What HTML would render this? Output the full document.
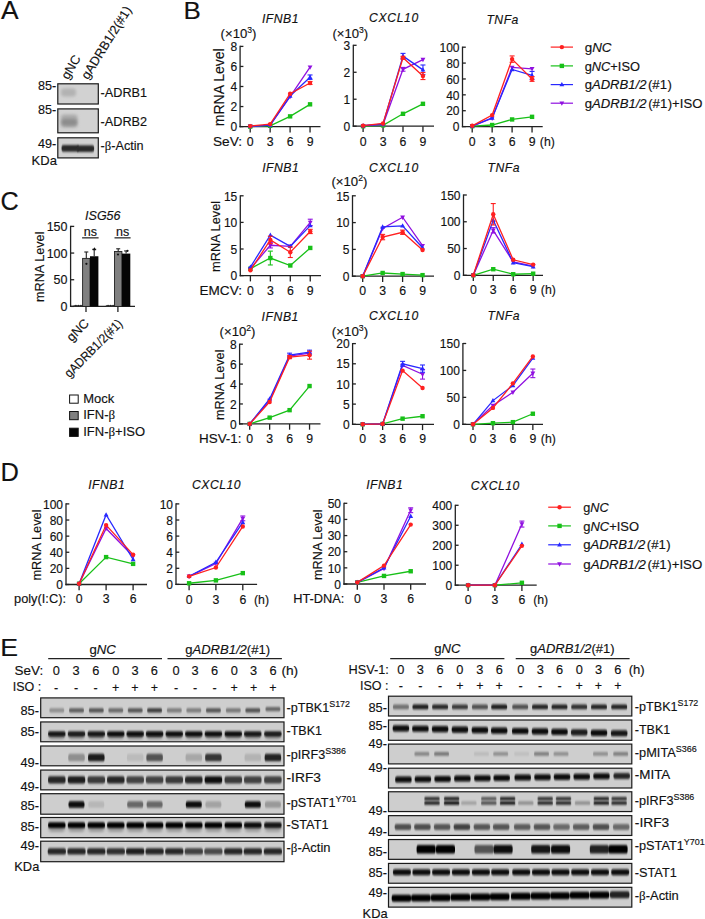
<!DOCTYPE html>
<html><head><meta charset="utf-8"><style>
html,body{margin:0;padding:0;background:#fff;}
svg{display:block;font-family:"Liberation Sans", sans-serif;}
text{stroke:#111;stroke-width:0.15px;paint-order:stroke;}
</style></head><body>
<svg width="705" height="919" viewBox="0 0 705 919" font-family='"Liberation Sans", sans-serif' fill="#111">
<defs>
<filter id="b1" x="-50%" y="-50%" width="200%" height="200%"><feGaussianBlur stdDeviation="0.75 0.85"/></filter>
<filter id="b2" x="-50%" y="-50%" width="200%" height="200%"><feGaussianBlur stdDeviation="0.8"/></filter>
<filter id="b3" x="-50%" y="-50%" width="200%" height="200%"><feGaussianBlur stdDeviation="1.5"/></filter>
<filter id="b4" x="-50%" y="-50%" width="200%" height="200%"><feGaussianBlur stdDeviation="1.8"/></filter>
</defs>
<text x="0.9" y="19.0" font-size="25" textLength="17.6" lengthAdjust="spacingAndGlyphs">A</text>
<text x="183.6" y="18.6" font-size="24.5" textLength="17.3" lengthAdjust="spacingAndGlyphs">B</text>
<text x="0.6" y="209.8" font-size="25.5" textLength="18.2" lengthAdjust="spacingAndGlyphs">C</text>
<text x="0.6" y="481.4" font-size="25.5" textLength="18.4" lengthAdjust="spacingAndGlyphs">D</text>
<text x="0.2" y="655.6" font-size="24.5" textLength="17.8" lengthAdjust="spacingAndGlyphs">E</text>
<line x1="240.10" y1="45.80" x2="240.10" y2="127.25" stroke="#222" stroke-width="1.3"/>
<line x1="239.45" y1="126.60" x2="320.50" y2="126.60" stroke="#222" stroke-width="1.3"/>
<line x1="240.10" y1="126.60" x2="243.40" y2="126.60" stroke="#222" stroke-width="1.3"/>
<text x="237.10" y="131.30" font-size="12" text-anchor="end" >0</text>
<line x1="240.10" y1="106.55" x2="243.40" y2="106.55" stroke="#222" stroke-width="1.3"/>
<text x="237.10" y="111.25" font-size="12" text-anchor="end" >2</text>
<line x1="240.10" y1="86.50" x2="243.40" y2="86.50" stroke="#222" stroke-width="1.3"/>
<text x="237.10" y="91.20" font-size="12" text-anchor="end" >4</text>
<line x1="240.10" y1="66.45" x2="243.40" y2="66.45" stroke="#222" stroke-width="1.3"/>
<text x="237.10" y="71.15" font-size="12" text-anchor="end" >6</text>
<line x1="240.10" y1="46.40" x2="243.40" y2="46.40" stroke="#222" stroke-width="1.3"/>
<text x="237.10" y="51.10" font-size="12" text-anchor="end" >8</text>
<line x1="250.20" y1="126.60" x2="250.20" y2="132.40" stroke="#222" stroke-width="1.3"/>
<text x="250.20" y="145.90" font-size="12.3" text-anchor="middle" >0</text>
<line x1="270.15" y1="126.60" x2="270.15" y2="132.40" stroke="#222" stroke-width="1.3"/>
<text x="270.15" y="145.90" font-size="12.3" text-anchor="middle" >3</text>
<line x1="290.10" y1="126.60" x2="290.10" y2="132.40" stroke="#222" stroke-width="1.3"/>
<text x="290.10" y="145.90" font-size="12.3" text-anchor="middle" >6</text>
<line x1="310.05" y1="126.60" x2="310.05" y2="132.40" stroke="#222" stroke-width="1.3"/>
<text x="310.05" y="145.90" font-size="12.3" text-anchor="middle" >9</text>
<polyline points="250.20,126.60 270.15,125.80 290.10,116.37 310.05,104.34" fill="none" stroke="#18c018" stroke-width="1.3"/>
<rect x="248.00" y="124.40" width="4.40" height="4.40" fill="#18c018"/>
<rect x="267.95" y="123.60" width="4.40" height="4.40" fill="#18c018"/>
<rect x="287.90" y="114.17" width="4.40" height="4.40" fill="#18c018"/>
<rect x="307.85" y="102.14" width="4.40" height="4.40" fill="#18c018"/>
<polyline points="250.20,126.30 270.15,125.10 290.10,96.53 310.05,67.15" fill="none" stroke="#9010e0" stroke-width="1.3"/>
<path d="M250.20,128.94L252.62,124.54L247.78,124.54Z" fill="#9010e0"/>
<path d="M270.15,127.74L272.57,123.34L267.73,123.34Z" fill="#9010e0"/>
<path d="M290.10,99.17L292.52,94.77L287.68,94.77Z" fill="#9010e0"/>
<path d="M310.05,69.79L312.47,65.39L307.63,65.39Z" fill="#9010e0"/>
<polyline points="250.20,126.30 270.15,125.10 290.10,96.02 310.05,77.18" fill="none" stroke="#2828ff" stroke-width="1.3"/>
<line x1="310.05" y1="79.38" x2="310.05" y2="74.97" stroke="#2828ff" stroke-width="1.1"/>
<line x1="307.55" y1="74.97" x2="312.55" y2="74.97" stroke="#2828ff" stroke-width="1.1"/>
<line x1="307.55" y1="79.38" x2="312.55" y2="79.38" stroke="#2828ff" stroke-width="1.1"/>
<path d="M250.20,123.66L252.62,128.06L247.78,128.06Z" fill="#2828ff"/>
<path d="M270.15,122.46L272.57,126.86L267.73,126.86Z" fill="#2828ff"/>
<path d="M290.10,93.38L292.52,97.78L287.68,97.78Z" fill="#2828ff"/>
<path d="M310.05,74.54L312.47,78.94L307.63,78.94Z" fill="#2828ff"/>
<polyline points="250.20,126.10 270.15,124.09 290.10,93.72 310.05,82.99" fill="none" stroke="#ff2020" stroke-width="1.3"/>
<line x1="310.05" y1="84.50" x2="310.05" y2="81.49" stroke="#ff2020" stroke-width="1.1"/>
<line x1="307.55" y1="81.49" x2="312.55" y2="81.49" stroke="#ff2020" stroke-width="1.1"/>
<line x1="307.55" y1="84.50" x2="312.55" y2="84.50" stroke="#ff2020" stroke-width="1.1"/>
<circle cx="250.20" cy="126.10" r="2.2" fill="#ff2020"/>
<circle cx="270.15" cy="124.09" r="2.2" fill="#ff2020"/>
<circle cx="290.10" cy="93.72" r="2.2" fill="#ff2020"/>
<circle cx="310.05" cy="82.99" r="2.2" fill="#ff2020"/>
<text x="262.00" y="22.90" font-size="12.2" font-style="italic" textLength="36.50" lengthAdjust="spacing">IFNB1</text>
<text x="220.60" y="37.60" font-size="13" textLength="35.80" lengthAdjust="spacingAndGlyphs">(×10<tspan font-size="8.5" dy="-5">3</tspan><tspan dy="5">)</tspan></text>
<text x="0" y="0" font-size="14" text-anchor="middle" transform="translate(223.60,87.30) rotate(-90)">mRNA Level</text>
<text x="212.90" y="145.90" font-size="13.2" textLength="29.20" lengthAdjust="spacingAndGlyphs">SeV:</text>
<line x1="353.30" y1="44.70" x2="353.30" y2="126.85" stroke="#222" stroke-width="1.3"/>
<line x1="352.65" y1="126.20" x2="434.00" y2="126.20" stroke="#222" stroke-width="1.3"/>
<line x1="353.30" y1="126.20" x2="356.60" y2="126.20" stroke="#222" stroke-width="1.3"/>
<text x="350.30" y="130.90" font-size="12" text-anchor="end" >0</text>
<line x1="353.30" y1="99.23" x2="356.60" y2="99.23" stroke="#222" stroke-width="1.3"/>
<text x="350.30" y="103.93" font-size="12" text-anchor="end" >1</text>
<line x1="353.30" y1="72.27" x2="356.60" y2="72.27" stroke="#222" stroke-width="1.3"/>
<text x="350.30" y="76.97" font-size="12" text-anchor="end" >2</text>
<line x1="353.30" y1="45.30" x2="356.60" y2="45.30" stroke="#222" stroke-width="1.3"/>
<text x="350.30" y="50.00" font-size="12" text-anchor="end" >3</text>
<line x1="363.10" y1="126.20" x2="363.10" y2="132.00" stroke="#222" stroke-width="1.3"/>
<text x="363.10" y="145.50" font-size="12.3" text-anchor="middle" >0</text>
<line x1="383.05" y1="126.20" x2="383.05" y2="132.00" stroke="#222" stroke-width="1.3"/>
<text x="383.05" y="145.50" font-size="12.3" text-anchor="middle" >3</text>
<line x1="403.00" y1="126.20" x2="403.00" y2="132.00" stroke="#222" stroke-width="1.3"/>
<text x="403.00" y="145.50" font-size="12.3" text-anchor="middle" >6</text>
<line x1="422.95" y1="126.20" x2="422.95" y2="132.00" stroke="#222" stroke-width="1.3"/>
<text x="422.95" y="145.50" font-size="12.3" text-anchor="middle" >9</text>
<polyline points="363.10,126.20 383.05,125.39 403.00,113.80 422.95,103.82" fill="none" stroke="#18c018" stroke-width="1.3"/>
<rect x="360.90" y="124.00" width="4.40" height="4.40" fill="#18c018"/>
<rect x="380.85" y="123.19" width="4.40" height="4.40" fill="#18c018"/>
<rect x="400.80" y="111.60" width="4.40" height="4.40" fill="#18c018"/>
<rect x="420.75" y="101.62" width="4.40" height="4.40" fill="#18c018"/>
<polyline points="363.10,125.66 383.05,124.58 403.00,69.30 422.95,59.59" fill="none" stroke="#9010e0" stroke-width="1.3"/>
<line x1="403.00" y1="71.19" x2="403.00" y2="67.41" stroke="#9010e0" stroke-width="1.1"/>
<line x1="400.50" y1="67.41" x2="405.50" y2="67.41" stroke="#9010e0" stroke-width="1.1"/>
<line x1="400.50" y1="71.19" x2="405.50" y2="71.19" stroke="#9010e0" stroke-width="1.1"/>
<path d="M363.10,128.30L365.52,123.90L360.68,123.90Z" fill="#9010e0"/>
<path d="M383.05,127.22L385.47,122.82L380.63,122.82Z" fill="#9010e0"/>
<path d="M403.00,71.94L405.42,67.54L400.58,67.54Z" fill="#9010e0"/>
<path d="M422.95,62.23L425.37,57.83L420.53,57.83Z" fill="#9010e0"/>
<polyline points="363.10,125.66 383.05,124.04 403.00,56.09 422.95,69.84" fill="none" stroke="#2828ff" stroke-width="1.3"/>
<line x1="403.00" y1="58.78" x2="403.00" y2="53.39" stroke="#2828ff" stroke-width="1.1"/>
<line x1="400.50" y1="53.39" x2="405.50" y2="53.39" stroke="#2828ff" stroke-width="1.1"/>
<line x1="400.50" y1="58.78" x2="405.50" y2="58.78" stroke="#2828ff" stroke-width="1.1"/>
<line x1="422.95" y1="74.69" x2="422.95" y2="64.99" stroke="#2828ff" stroke-width="1.1"/>
<line x1="420.45" y1="64.99" x2="425.45" y2="64.99" stroke="#2828ff" stroke-width="1.1"/>
<line x1="420.45" y1="74.69" x2="425.45" y2="74.69" stroke="#2828ff" stroke-width="1.1"/>
<path d="M363.10,123.02L365.52,127.42L360.68,127.42Z" fill="#2828ff"/>
<path d="M383.05,121.40L385.47,125.80L380.63,125.80Z" fill="#2828ff"/>
<path d="M403.00,53.45L405.42,57.85L400.58,57.85Z" fill="#2828ff"/>
<path d="M422.95,67.20L425.37,71.60L420.53,71.60Z" fill="#2828ff"/>
<polyline points="363.10,125.66 383.05,123.50 403.00,57.70 422.95,76.04" fill="none" stroke="#ff2020" stroke-width="1.3"/>
<line x1="403.00" y1="59.05" x2="403.00" y2="56.36" stroke="#ff2020" stroke-width="1.1"/>
<line x1="400.50" y1="56.36" x2="405.50" y2="56.36" stroke="#ff2020" stroke-width="1.1"/>
<line x1="400.50" y1="59.05" x2="405.50" y2="59.05" stroke="#ff2020" stroke-width="1.1"/>
<line x1="422.95" y1="79.55" x2="422.95" y2="72.54" stroke="#ff2020" stroke-width="1.1"/>
<line x1="420.45" y1="72.54" x2="425.45" y2="72.54" stroke="#ff2020" stroke-width="1.1"/>
<line x1="420.45" y1="79.55" x2="425.45" y2="79.55" stroke="#ff2020" stroke-width="1.1"/>
<circle cx="363.10" cy="125.66" r="2.2" fill="#ff2020"/>
<circle cx="383.05" cy="123.50" r="2.2" fill="#ff2020"/>
<circle cx="403.00" cy="57.70" r="2.2" fill="#ff2020"/>
<circle cx="422.95" cy="76.04" r="2.2" fill="#ff2020"/>
<text x="369.00" y="21.80" font-size="12.2" font-style="italic" textLength="49.30" lengthAdjust="spacing">CXCL10</text>
<text x="332.40" y="37.60" font-size="13" textLength="35.80" lengthAdjust="spacingAndGlyphs">(×10<tspan font-size="8.5" dy="-5">3</tspan><tspan dy="5">)</tspan></text>
<line x1="462.50" y1="46.60" x2="462.50" y2="127.25" stroke="#222" stroke-width="1.3"/>
<line x1="461.85" y1="126.60" x2="542.70" y2="126.60" stroke="#222" stroke-width="1.3"/>
<line x1="462.50" y1="126.60" x2="465.80" y2="126.60" stroke="#222" stroke-width="1.3"/>
<text x="459.50" y="131.30" font-size="12" text-anchor="end" >0</text>
<line x1="462.50" y1="110.72" x2="465.80" y2="110.72" stroke="#222" stroke-width="1.3"/>
<text x="459.50" y="115.42" font-size="12" text-anchor="end" >20</text>
<line x1="462.50" y1="94.84" x2="465.80" y2="94.84" stroke="#222" stroke-width="1.3"/>
<text x="459.50" y="99.54" font-size="12" text-anchor="end" >40</text>
<line x1="462.50" y1="78.96" x2="465.80" y2="78.96" stroke="#222" stroke-width="1.3"/>
<text x="459.50" y="83.66" font-size="12" text-anchor="end" >60</text>
<line x1="462.50" y1="63.08" x2="465.80" y2="63.08" stroke="#222" stroke-width="1.3"/>
<text x="459.50" y="67.78" font-size="12" text-anchor="end" >80</text>
<line x1="462.50" y1="47.20" x2="465.80" y2="47.20" stroke="#222" stroke-width="1.3"/>
<text x="459.50" y="51.90" font-size="12" text-anchor="end" >100</text>
<line x1="472.20" y1="126.60" x2="472.20" y2="132.40" stroke="#222" stroke-width="1.3"/>
<text x="472.20" y="145.90" font-size="12.3" text-anchor="middle" >0</text>
<line x1="492.15" y1="126.60" x2="492.15" y2="132.40" stroke="#222" stroke-width="1.3"/>
<text x="492.15" y="145.90" font-size="12.3" text-anchor="middle" >3</text>
<line x1="512.10" y1="126.60" x2="512.10" y2="132.40" stroke="#222" stroke-width="1.3"/>
<text x="512.10" y="145.90" font-size="12.3" text-anchor="middle" >6</text>
<line x1="532.05" y1="126.60" x2="532.05" y2="132.40" stroke="#222" stroke-width="1.3"/>
<text x="532.05" y="145.90" font-size="12.3" text-anchor="middle" >9</text>
<polyline points="472.20,126.20 492.15,125.01 512.10,119.45 532.05,116.83" fill="none" stroke="#18c018" stroke-width="1.3"/>
<rect x="470.00" y="124.00" width="4.40" height="4.40" fill="#18c018"/>
<rect x="489.95" y="122.81" width="4.40" height="4.40" fill="#18c018"/>
<rect x="509.90" y="117.25" width="4.40" height="4.40" fill="#18c018"/>
<rect x="529.85" y="114.63" width="4.40" height="4.40" fill="#18c018"/>
<polyline points="472.20,126.20 492.15,118.26 512.10,67.45 532.05,68.88" fill="none" stroke="#9010e0" stroke-width="1.3"/>
<path d="M472.20,128.84L474.62,124.44L469.78,124.44Z" fill="#9010e0"/>
<path d="M492.15,120.90L494.57,116.50L489.73,116.50Z" fill="#9010e0"/>
<path d="M512.10,70.09L514.52,65.69L509.68,65.69Z" fill="#9010e0"/>
<path d="M532.05,71.52L534.47,67.12L529.63,67.12Z" fill="#9010e0"/>
<polyline points="472.20,126.20 492.15,117.87 512.10,69.43 532.05,75.39" fill="none" stroke="#2828ff" stroke-width="1.3"/>
<line x1="532.05" y1="79.36" x2="532.05" y2="71.42" stroke="#2828ff" stroke-width="1.1"/>
<line x1="529.55" y1="71.42" x2="534.55" y2="71.42" stroke="#2828ff" stroke-width="1.1"/>
<line x1="529.55" y1="79.36" x2="534.55" y2="79.36" stroke="#2828ff" stroke-width="1.1"/>
<path d="M472.20,123.56L474.62,127.96L469.78,127.96Z" fill="#2828ff"/>
<path d="M492.15,115.23L494.57,119.63L489.73,119.63Z" fill="#2828ff"/>
<path d="M512.10,66.79L514.52,71.19L509.68,71.19Z" fill="#2828ff"/>
<path d="M532.05,72.75L534.47,77.15L529.63,77.15Z" fill="#2828ff"/>
<polyline points="472.20,125.81 492.15,115.09 512.10,59.11 532.05,78.96" fill="none" stroke="#ff2020" stroke-width="1.3"/>
<line x1="512.10" y1="62.29" x2="512.10" y2="55.93" stroke="#ff2020" stroke-width="1.1"/>
<line x1="509.60" y1="55.93" x2="514.60" y2="55.93" stroke="#ff2020" stroke-width="1.1"/>
<line x1="509.60" y1="62.29" x2="514.60" y2="62.29" stroke="#ff2020" stroke-width="1.1"/>
<line x1="532.05" y1="81.34" x2="532.05" y2="76.58" stroke="#ff2020" stroke-width="1.1"/>
<line x1="529.55" y1="76.58" x2="534.55" y2="76.58" stroke="#ff2020" stroke-width="1.1"/>
<line x1="529.55" y1="81.34" x2="534.55" y2="81.34" stroke="#ff2020" stroke-width="1.1"/>
<circle cx="472.20" cy="125.81" r="2.2" fill="#ff2020"/>
<circle cx="492.15" cy="115.09" r="2.2" fill="#ff2020"/>
<circle cx="512.10" cy="59.11" r="2.2" fill="#ff2020"/>
<circle cx="532.05" cy="78.96" r="2.2" fill="#ff2020"/>
<text x="486.40" y="24.20" font-size="12.2" font-style="italic" textLength="32.00" lengthAdjust="spacing">TNFa</text>
<text x="539.80" y="145.90" font-size="12.3" text-anchor="start" >(h)</text>
<line x1="550.70" y1="47.10" x2="573.00" y2="47.10" stroke="#ff2020" stroke-width="1.2"/>
<circle cx="561.85" cy="47.10" r="2.2" fill="#ff2020"/>
<text x="584.70" y="51.70" font-size="12.5" textLength="26.80" lengthAdjust="spacingAndGlyphs">g<tspan font-style="italic">NC</tspan></text>
<line x1="550.70" y1="65.90" x2="573.00" y2="65.90" stroke="#18c018" stroke-width="1.2"/>
<rect x="559.65" y="63.70" width="4.40" height="4.40" fill="#18c018"/>
<text x="584.70" y="70.50" font-size="12.5" textLength="55.30" lengthAdjust="spacingAndGlyphs">g<tspan font-style="italic">NC</tspan>+ISO</text>
<line x1="550.70" y1="84.60" x2="573.00" y2="84.60" stroke="#2828ff" stroke-width="1.2"/>
<path d="M561.85,81.96L564.27,86.36L559.43,86.36Z" fill="#2828ff"/>
<text x="584.70" y="89.20" font-size="12.5" textLength="87.10" lengthAdjust="spacingAndGlyphs">g<tspan font-style="italic">ADRB1/2</tspan><tspan dx="1.5">(</tspan>#1<tspan dx="0.5">)</tspan></text>
<line x1="550.70" y1="103.20" x2="573.00" y2="103.20" stroke="#9010e0" stroke-width="1.2"/>
<path d="M561.85,105.84L564.27,101.44L559.43,101.44Z" fill="#9010e0"/>
<text x="584.70" y="107.80" font-size="12.5" textLength="117.70" lengthAdjust="spacingAndGlyphs">g<tspan font-style="italic">ADRB1/2</tspan><tspan dx="1.5">(</tspan>#1<tspan dx="0.5">)</tspan>+ISO</text>
<line x1="240.30" y1="195.20" x2="240.30" y2="276.25" stroke="#222" stroke-width="1.3"/>
<line x1="239.65" y1="275.60" x2="321.00" y2="275.60" stroke="#222" stroke-width="1.3"/>
<line x1="240.30" y1="275.60" x2="243.60" y2="275.60" stroke="#222" stroke-width="1.3"/>
<text x="237.30" y="280.30" font-size="12" text-anchor="end" >0</text>
<line x1="240.30" y1="249.00" x2="243.60" y2="249.00" stroke="#222" stroke-width="1.3"/>
<text x="237.30" y="253.70" font-size="12" text-anchor="end" >5</text>
<line x1="240.30" y1="222.40" x2="243.60" y2="222.40" stroke="#222" stroke-width="1.3"/>
<text x="237.30" y="227.10" font-size="12" text-anchor="end" >10</text>
<line x1="240.30" y1="195.80" x2="243.60" y2="195.80" stroke="#222" stroke-width="1.3"/>
<text x="237.30" y="200.50" font-size="12" text-anchor="end" >15</text>
<line x1="250.40" y1="275.60" x2="250.40" y2="281.40" stroke="#222" stroke-width="1.3"/>
<text x="250.40" y="294.50" font-size="12.3" text-anchor="middle" >0</text>
<line x1="270.35" y1="275.60" x2="270.35" y2="281.40" stroke="#222" stroke-width="1.3"/>
<text x="270.35" y="294.50" font-size="12.3" text-anchor="middle" >3</text>
<line x1="290.30" y1="275.60" x2="290.30" y2="281.40" stroke="#222" stroke-width="1.3"/>
<text x="290.30" y="294.50" font-size="12.3" text-anchor="middle" >6</text>
<line x1="310.25" y1="275.60" x2="310.25" y2="281.40" stroke="#222" stroke-width="1.3"/>
<text x="310.25" y="294.50" font-size="12.3" text-anchor="middle" >9</text>
<polyline points="250.40,268.68 270.35,258.04 290.30,265.49 310.25,247.94" fill="none" stroke="#18c018" stroke-width="1.3"/>
<line x1="270.35" y1="264.96" x2="270.35" y2="251.13" stroke="#18c018" stroke-width="1.1"/>
<line x1="267.85" y1="251.13" x2="272.85" y2="251.13" stroke="#18c018" stroke-width="1.1"/>
<line x1="267.85" y1="264.96" x2="272.85" y2="264.96" stroke="#18c018" stroke-width="1.1"/>
<rect x="248.20" y="266.48" width="4.40" height="4.40" fill="#18c018"/>
<rect x="268.15" y="255.84" width="4.40" height="4.40" fill="#18c018"/>
<rect x="288.10" y="263.29" width="4.40" height="4.40" fill="#18c018"/>
<rect x="308.05" y="245.74" width="4.40" height="4.40" fill="#18c018"/>
<polyline points="250.40,268.68 270.35,245.28 290.30,246.34 310.25,222.40" fill="none" stroke="#9010e0" stroke-width="1.3"/>
<line x1="270.35" y1="247.94" x2="270.35" y2="242.62" stroke="#9010e0" stroke-width="1.1"/>
<line x1="267.85" y1="242.62" x2="272.85" y2="242.62" stroke="#9010e0" stroke-width="1.1"/>
<line x1="267.85" y1="247.94" x2="272.85" y2="247.94" stroke="#9010e0" stroke-width="1.1"/>
<line x1="310.25" y1="225.59" x2="310.25" y2="219.21" stroke="#9010e0" stroke-width="1.1"/>
<line x1="307.75" y1="219.21" x2="312.75" y2="219.21" stroke="#9010e0" stroke-width="1.1"/>
<line x1="307.75" y1="225.59" x2="312.75" y2="225.59" stroke="#9010e0" stroke-width="1.1"/>
<path d="M250.40,271.32L252.82,266.92L247.98,266.92Z" fill="#9010e0"/>
<path d="M270.35,247.92L272.77,243.52L267.93,243.52Z" fill="#9010e0"/>
<path d="M290.30,248.98L292.72,244.58L287.88,244.58Z" fill="#9010e0"/>
<path d="M310.25,225.04L312.67,220.64L307.83,220.64Z" fill="#9010e0"/>
<polyline points="250.40,267.09 270.35,235.17 290.30,246.34 310.25,225.59" fill="none" stroke="#2828ff" stroke-width="1.3"/>
<path d="M250.40,264.45L252.82,268.85L247.98,268.85Z" fill="#2828ff"/>
<path d="M270.35,232.53L272.77,236.93L267.93,236.93Z" fill="#2828ff"/>
<path d="M290.30,243.70L292.72,248.10L287.88,248.10Z" fill="#2828ff"/>
<path d="M310.25,222.95L312.67,227.35L307.83,227.35Z" fill="#2828ff"/>
<polyline points="250.40,270.28 270.35,239.96 290.30,252.19 310.25,231.44" fill="none" stroke="#ff2020" stroke-width="1.3"/>
<line x1="270.35" y1="243.68" x2="270.35" y2="236.23" stroke="#ff2020" stroke-width="1.1"/>
<line x1="267.85" y1="236.23" x2="272.85" y2="236.23" stroke="#ff2020" stroke-width="1.1"/>
<line x1="267.85" y1="243.68" x2="272.85" y2="243.68" stroke="#ff2020" stroke-width="1.1"/>
<line x1="290.30" y1="257.51" x2="290.30" y2="246.87" stroke="#ff2020" stroke-width="1.1"/>
<line x1="287.80" y1="246.87" x2="292.80" y2="246.87" stroke="#ff2020" stroke-width="1.1"/>
<line x1="287.80" y1="257.51" x2="292.80" y2="257.51" stroke="#ff2020" stroke-width="1.1"/>
<line x1="310.25" y1="233.57" x2="310.25" y2="229.32" stroke="#ff2020" stroke-width="1.1"/>
<line x1="307.75" y1="229.32" x2="312.75" y2="229.32" stroke="#ff2020" stroke-width="1.1"/>
<line x1="307.75" y1="233.57" x2="312.75" y2="233.57" stroke="#ff2020" stroke-width="1.1"/>
<circle cx="250.40" cy="270.28" r="2.2" fill="#ff2020"/>
<circle cx="270.35" cy="239.96" r="2.2" fill="#ff2020"/>
<circle cx="290.30" cy="252.19" r="2.2" fill="#ff2020"/>
<circle cx="310.25" cy="231.44" r="2.2" fill="#ff2020"/>
<text x="262.20" y="172.20" font-size="12.2" font-style="italic" textLength="36.60" lengthAdjust="spacing">IFNB1</text>
<text x="0" y="0" font-size="12.8" text-anchor="middle" transform="translate(219.80,236.40) rotate(-90)">mRNA Level</text>
<text x="199.50" y="294.50" font-size="13.2" textLength="42.50" lengthAdjust="spacingAndGlyphs">EMCV:</text>
<line x1="352.50" y1="195.20" x2="352.50" y2="276.85" stroke="#222" stroke-width="1.3"/>
<line x1="351.85" y1="276.20" x2="434.00" y2="276.20" stroke="#222" stroke-width="1.3"/>
<line x1="352.50" y1="276.20" x2="355.80" y2="276.20" stroke="#222" stroke-width="1.3"/>
<text x="349.50" y="280.90" font-size="12" text-anchor="end" >0</text>
<line x1="352.50" y1="249.40" x2="355.80" y2="249.40" stroke="#222" stroke-width="1.3"/>
<text x="349.50" y="254.10" font-size="12" text-anchor="end" >5</text>
<line x1="352.50" y1="222.60" x2="355.80" y2="222.60" stroke="#222" stroke-width="1.3"/>
<text x="349.50" y="227.30" font-size="12" text-anchor="end" >10</text>
<line x1="352.50" y1="195.80" x2="355.80" y2="195.80" stroke="#222" stroke-width="1.3"/>
<text x="349.50" y="200.50" font-size="12" text-anchor="end" >15</text>
<line x1="362.70" y1="276.20" x2="362.70" y2="282.00" stroke="#222" stroke-width="1.3"/>
<text x="362.70" y="295.10" font-size="12.3" text-anchor="middle" >0</text>
<line x1="382.65" y1="276.20" x2="382.65" y2="282.00" stroke="#222" stroke-width="1.3"/>
<text x="382.65" y="295.10" font-size="12.3" text-anchor="middle" >3</text>
<line x1="402.60" y1="276.20" x2="402.60" y2="282.00" stroke="#222" stroke-width="1.3"/>
<text x="402.60" y="295.10" font-size="12.3" text-anchor="middle" >6</text>
<line x1="422.55" y1="276.20" x2="422.55" y2="282.00" stroke="#222" stroke-width="1.3"/>
<text x="422.55" y="295.10" font-size="12.3" text-anchor="middle" >9</text>
<polyline points="362.70,276.20 382.65,272.98 402.60,274.06 422.55,275.13" fill="none" stroke="#18c018" stroke-width="1.3"/>
<rect x="360.50" y="274.00" width="4.40" height="4.40" fill="#18c018"/>
<rect x="380.45" y="270.78" width="4.40" height="4.40" fill="#18c018"/>
<rect x="400.40" y="271.86" width="4.40" height="4.40" fill="#18c018"/>
<rect x="420.35" y="272.93" width="4.40" height="4.40" fill="#18c018"/>
<polyline points="362.70,276.20 382.65,228.50 402.60,217.24 422.55,245.65" fill="none" stroke="#9010e0" stroke-width="1.3"/>
<path d="M362.70,278.84L365.12,274.44L360.28,274.44Z" fill="#9010e0"/>
<path d="M382.65,231.14L385.07,226.74L380.23,226.74Z" fill="#9010e0"/>
<path d="M402.60,219.88L405.02,215.48L400.18,215.48Z" fill="#9010e0"/>
<path d="M422.55,248.29L424.97,243.89L420.13,243.89Z" fill="#9010e0"/>
<polyline points="362.70,276.20 382.65,226.89 402.60,225.82 422.55,247.79" fill="none" stroke="#2828ff" stroke-width="1.3"/>
<path d="M362.70,273.56L365.12,277.96L360.28,277.96Z" fill="#2828ff"/>
<path d="M382.65,224.25L385.07,228.65L380.23,228.65Z" fill="#2828ff"/>
<path d="M402.60,223.18L405.02,227.58L400.18,227.58Z" fill="#2828ff"/>
<path d="M422.55,245.15L424.97,249.55L420.13,249.55Z" fill="#2828ff"/>
<polyline points="362.70,276.20 382.65,237.07 402.60,232.25 422.55,249.94" fill="none" stroke="#ff2020" stroke-width="1.3"/>
<line x1="382.65" y1="239.75" x2="382.65" y2="234.39" stroke="#ff2020" stroke-width="1.1"/>
<line x1="380.15" y1="234.39" x2="385.15" y2="234.39" stroke="#ff2020" stroke-width="1.1"/>
<line x1="380.15" y1="239.75" x2="385.15" y2="239.75" stroke="#ff2020" stroke-width="1.1"/>
<line x1="402.60" y1="234.39" x2="402.60" y2="230.10" stroke="#ff2020" stroke-width="1.1"/>
<line x1="400.10" y1="230.10" x2="405.10" y2="230.10" stroke="#ff2020" stroke-width="1.1"/>
<line x1="400.10" y1="234.39" x2="405.10" y2="234.39" stroke="#ff2020" stroke-width="1.1"/>
<circle cx="362.70" cy="276.20" r="2.2" fill="#ff2020"/>
<circle cx="382.65" cy="237.07" r="2.2" fill="#ff2020"/>
<circle cx="402.60" cy="232.25" r="2.2" fill="#ff2020"/>
<circle cx="422.55" cy="249.94" r="2.2" fill="#ff2020"/>
<text x="369.00" y="172.30" font-size="12.2" font-style="italic" textLength="49.30" lengthAdjust="spacing">CXCL10</text>
<text x="331.40" y="185.90" font-size="13" textLength="36.00" lengthAdjust="spacingAndGlyphs">(×10<tspan font-size="8.5" dy="-5">2</tspan><tspan dy="5">)</tspan></text>
<line x1="463.50" y1="194.40" x2="463.50" y2="275.95" stroke="#222" stroke-width="1.3"/>
<line x1="462.85" y1="275.30" x2="543.00" y2="275.30" stroke="#222" stroke-width="1.3"/>
<line x1="463.50" y1="275.30" x2="466.80" y2="275.30" stroke="#222" stroke-width="1.3"/>
<text x="460.50" y="280.00" font-size="12" text-anchor="end" >0</text>
<line x1="463.50" y1="248.53" x2="466.80" y2="248.53" stroke="#222" stroke-width="1.3"/>
<text x="460.50" y="253.23" font-size="12" text-anchor="end" >50</text>
<line x1="463.50" y1="221.77" x2="466.80" y2="221.77" stroke="#222" stroke-width="1.3"/>
<text x="460.50" y="226.47" font-size="12" text-anchor="end" >100</text>
<line x1="463.50" y1="195.00" x2="466.80" y2="195.00" stroke="#222" stroke-width="1.3"/>
<text x="460.50" y="199.70" font-size="12" text-anchor="end" >150</text>
<line x1="473.30" y1="275.30" x2="473.30" y2="281.10" stroke="#222" stroke-width="1.3"/>
<text x="473.30" y="294.20" font-size="12.3" text-anchor="middle" >0</text>
<line x1="493.25" y1="275.30" x2="493.25" y2="281.10" stroke="#222" stroke-width="1.3"/>
<text x="493.25" y="294.20" font-size="12.3" text-anchor="middle" >3</text>
<line x1="513.20" y1="275.30" x2="513.20" y2="281.10" stroke="#222" stroke-width="1.3"/>
<text x="513.20" y="294.20" font-size="12.3" text-anchor="middle" >6</text>
<line x1="533.15" y1="275.30" x2="533.15" y2="281.10" stroke="#222" stroke-width="1.3"/>
<text x="533.15" y="294.20" font-size="12.3" text-anchor="middle" >9</text>
<polyline points="473.30,275.30 493.25,269.20 513.20,274.23 533.15,273.69" fill="none" stroke="#18c018" stroke-width="1.3"/>
<rect x="471.10" y="273.10" width="4.40" height="4.40" fill="#18c018"/>
<rect x="491.05" y="267.00" width="4.40" height="4.40" fill="#18c018"/>
<rect x="511.00" y="272.03" width="4.40" height="4.40" fill="#18c018"/>
<rect x="530.95" y="271.49" width="4.40" height="4.40" fill="#18c018"/>
<polyline points="473.30,275.30 493.25,230.33 513.20,261.92 533.15,266.20" fill="none" stroke="#9010e0" stroke-width="1.3"/>
<line x1="493.25" y1="233.01" x2="493.25" y2="227.66" stroke="#9010e0" stroke-width="1.1"/>
<line x1="490.75" y1="227.66" x2="495.75" y2="227.66" stroke="#9010e0" stroke-width="1.1"/>
<line x1="490.75" y1="233.01" x2="495.75" y2="233.01" stroke="#9010e0" stroke-width="1.1"/>
<path d="M473.30,277.94L475.72,273.54L470.88,273.54Z" fill="#9010e0"/>
<path d="M493.25,232.97L495.67,228.57L490.83,228.57Z" fill="#9010e0"/>
<path d="M513.20,264.56L515.62,260.16L510.78,260.16Z" fill="#9010e0"/>
<path d="M533.15,268.84L535.57,264.44L530.73,264.44Z" fill="#9010e0"/>
<polyline points="473.30,275.30 493.25,220.16 513.20,262.72 533.15,266.73" fill="none" stroke="#2828ff" stroke-width="1.3"/>
<path d="M473.30,272.66L475.72,277.06L470.88,277.06Z" fill="#2828ff"/>
<path d="M493.25,217.52L495.67,221.92L490.83,221.92Z" fill="#2828ff"/>
<path d="M513.20,260.08L515.62,264.48L510.78,264.48Z" fill="#2828ff"/>
<path d="M533.15,264.09L535.57,268.49L530.73,268.49Z" fill="#2828ff"/>
<polyline points="473.30,275.30 493.25,214.27 513.20,259.78 533.15,264.59" fill="none" stroke="#ff2020" stroke-width="1.3"/>
<line x1="493.25" y1="224.98" x2="493.25" y2="203.57" stroke="#ff2020" stroke-width="1.1"/>
<line x1="490.75" y1="203.57" x2="495.75" y2="203.57" stroke="#ff2020" stroke-width="1.1"/>
<line x1="490.75" y1="224.98" x2="495.75" y2="224.98" stroke="#ff2020" stroke-width="1.1"/>
<circle cx="473.30" cy="275.30" r="2.2" fill="#ff2020"/>
<circle cx="493.25" cy="214.27" r="2.2" fill="#ff2020"/>
<circle cx="513.20" cy="259.78" r="2.2" fill="#ff2020"/>
<circle cx="533.15" cy="264.59" r="2.2" fill="#ff2020"/>
<text x="487.60" y="171.80" font-size="12.2" font-style="italic" textLength="32.00" lengthAdjust="spacing">TNFa</text>
<text x="540.80" y="294.20" font-size="12.3" text-anchor="start" >(h)</text>
<line x1="239.60" y1="343.60" x2="239.60" y2="424.55" stroke="#222" stroke-width="1.3"/>
<line x1="238.95" y1="423.90" x2="320.50" y2="423.90" stroke="#222" stroke-width="1.3"/>
<line x1="239.60" y1="423.90" x2="242.90" y2="423.90" stroke="#222" stroke-width="1.3"/>
<text x="236.60" y="428.60" font-size="12" text-anchor="end" >0</text>
<line x1="239.60" y1="403.97" x2="242.90" y2="403.97" stroke="#222" stroke-width="1.3"/>
<text x="236.60" y="408.67" font-size="12" text-anchor="end" >2</text>
<line x1="239.60" y1="384.05" x2="242.90" y2="384.05" stroke="#222" stroke-width="1.3"/>
<text x="236.60" y="388.75" font-size="12" text-anchor="end" >4</text>
<line x1="239.60" y1="364.12" x2="242.90" y2="364.12" stroke="#222" stroke-width="1.3"/>
<text x="236.60" y="368.82" font-size="12" text-anchor="end" >6</text>
<line x1="239.60" y1="344.20" x2="242.90" y2="344.20" stroke="#222" stroke-width="1.3"/>
<text x="236.60" y="348.90" font-size="12" text-anchor="end" >8</text>
<line x1="249.70" y1="423.90" x2="249.70" y2="429.70" stroke="#222" stroke-width="1.3"/>
<text x="249.70" y="442.90" font-size="12.3" text-anchor="middle" >0</text>
<line x1="269.65" y1="423.90" x2="269.65" y2="429.70" stroke="#222" stroke-width="1.3"/>
<text x="269.65" y="442.90" font-size="12.3" text-anchor="middle" >3</text>
<line x1="289.60" y1="423.90" x2="289.60" y2="429.70" stroke="#222" stroke-width="1.3"/>
<text x="289.60" y="442.90" font-size="12.3" text-anchor="middle" >6</text>
<line x1="309.55" y1="423.90" x2="309.55" y2="429.70" stroke="#222" stroke-width="1.3"/>
<text x="309.55" y="442.90" font-size="12.3" text-anchor="middle" >9</text>
<polyline points="249.70,423.90 269.65,417.62 289.60,410.15 309.55,386.04" fill="none" stroke="#18c018" stroke-width="1.3"/>
<rect x="247.50" y="421.70" width="4.40" height="4.40" fill="#18c018"/>
<rect x="267.45" y="415.42" width="4.40" height="4.40" fill="#18c018"/>
<rect x="287.40" y="407.95" width="4.40" height="4.40" fill="#18c018"/>
<rect x="307.35" y="383.84" width="4.40" height="4.40" fill="#18c018"/>
<polyline points="249.70,423.90 269.65,400.49 289.60,356.15 309.55,353.17" fill="none" stroke="#9010e0" stroke-width="1.3"/>
<path d="M249.70,426.54L252.12,422.14L247.28,422.14Z" fill="#9010e0"/>
<path d="M269.65,403.13L272.07,398.73L267.23,398.73Z" fill="#9010e0"/>
<path d="M289.60,358.79L292.02,354.39L287.18,354.39Z" fill="#9010e0"/>
<path d="M309.55,355.81L311.97,351.41L307.13,351.41Z" fill="#9010e0"/>
<polyline points="249.70,423.90 269.65,398.99 289.60,355.16 309.55,352.17" fill="none" stroke="#2828ff" stroke-width="1.3"/>
<line x1="289.60" y1="357.15" x2="289.60" y2="353.17" stroke="#2828ff" stroke-width="1.1"/>
<line x1="287.10" y1="353.17" x2="292.10" y2="353.17" stroke="#2828ff" stroke-width="1.1"/>
<line x1="287.10" y1="357.15" x2="292.10" y2="357.15" stroke="#2828ff" stroke-width="1.1"/>
<line x1="309.55" y1="354.16" x2="309.55" y2="350.18" stroke="#2828ff" stroke-width="1.1"/>
<line x1="307.05" y1="350.18" x2="312.05" y2="350.18" stroke="#2828ff" stroke-width="1.1"/>
<line x1="307.05" y1="354.16" x2="312.05" y2="354.16" stroke="#2828ff" stroke-width="1.1"/>
<path d="M249.70,421.26L252.12,425.66L247.28,425.66Z" fill="#2828ff"/>
<path d="M269.65,396.35L272.07,400.75L267.23,400.75Z" fill="#2828ff"/>
<path d="M289.60,352.52L292.02,356.92L287.18,356.92Z" fill="#2828ff"/>
<path d="M309.55,349.53L311.97,353.93L307.13,353.93Z" fill="#2828ff"/>
<polyline points="249.70,423.90 269.65,401.98 289.60,357.15 309.55,355.16" fill="none" stroke="#ff2020" stroke-width="1.3"/>
<line x1="289.60" y1="358.65" x2="289.60" y2="355.66" stroke="#ff2020" stroke-width="1.1"/>
<line x1="287.10" y1="355.66" x2="292.10" y2="355.66" stroke="#ff2020" stroke-width="1.1"/>
<line x1="287.10" y1="358.65" x2="292.10" y2="358.65" stroke="#ff2020" stroke-width="1.1"/>
<line x1="309.55" y1="359.14" x2="309.55" y2="351.17" stroke="#ff2020" stroke-width="1.1"/>
<line x1="307.05" y1="351.17" x2="312.05" y2="351.17" stroke="#ff2020" stroke-width="1.1"/>
<line x1="307.05" y1="359.14" x2="312.05" y2="359.14" stroke="#ff2020" stroke-width="1.1"/>
<circle cx="249.70" cy="423.90" r="2.2" fill="#ff2020"/>
<circle cx="269.65" cy="401.98" r="2.2" fill="#ff2020"/>
<circle cx="289.60" cy="357.15" r="2.2" fill="#ff2020"/>
<circle cx="309.55" cy="355.16" r="2.2" fill="#ff2020"/>
<text x="261.60" y="320.60" font-size="12.2" font-style="italic" textLength="36.80" lengthAdjust="spacing">IFNB1</text>
<text x="219.60" y="335.60" font-size="13" textLength="35.90" lengthAdjust="spacingAndGlyphs">(×10<tspan font-size="8.5" dy="-5">2</tspan><tspan dy="5">)</tspan></text>
<text x="0" y="0" font-size="12.7" text-anchor="middle" transform="translate(224.00,384.80) rotate(-90)">mRNA Level</text>
<text x="199.00" y="442.90" font-size="13.2" textLength="42.50" lengthAdjust="spacingAndGlyphs">HSV-1:</text>
<line x1="352.60" y1="343.00" x2="352.60" y2="424.95" stroke="#222" stroke-width="1.3"/>
<line x1="351.95" y1="424.30" x2="434.00" y2="424.30" stroke="#222" stroke-width="1.3"/>
<line x1="352.60" y1="424.30" x2="355.90" y2="424.30" stroke="#222" stroke-width="1.3"/>
<text x="349.60" y="429.00" font-size="12" text-anchor="end" >0</text>
<line x1="352.60" y1="404.12" x2="355.90" y2="404.12" stroke="#222" stroke-width="1.3"/>
<text x="349.60" y="408.82" font-size="12" text-anchor="end" >5</text>
<line x1="352.60" y1="383.95" x2="355.90" y2="383.95" stroke="#222" stroke-width="1.3"/>
<text x="349.60" y="388.65" font-size="12" text-anchor="end" >10</text>
<line x1="352.60" y1="363.78" x2="355.90" y2="363.78" stroke="#222" stroke-width="1.3"/>
<text x="349.60" y="368.48" font-size="12" text-anchor="end" >15</text>
<line x1="352.60" y1="343.60" x2="355.90" y2="343.60" stroke="#222" stroke-width="1.3"/>
<text x="349.60" y="348.30" font-size="12" text-anchor="end" >20</text>
<line x1="362.70" y1="424.30" x2="362.70" y2="430.10" stroke="#222" stroke-width="1.3"/>
<text x="362.70" y="443.30" font-size="12.3" text-anchor="middle" >0</text>
<line x1="382.65" y1="424.30" x2="382.65" y2="430.10" stroke="#222" stroke-width="1.3"/>
<text x="382.65" y="443.30" font-size="12.3" text-anchor="middle" >3</text>
<line x1="402.60" y1="424.30" x2="402.60" y2="430.10" stroke="#222" stroke-width="1.3"/>
<text x="402.60" y="443.30" font-size="12.3" text-anchor="middle" >6</text>
<line x1="422.55" y1="424.30" x2="422.55" y2="430.10" stroke="#222" stroke-width="1.3"/>
<text x="422.55" y="443.30" font-size="12.3" text-anchor="middle" >9</text>
<polyline points="362.70,424.30 382.65,423.90 402.60,418.65 422.55,416.23" fill="none" stroke="#18c018" stroke-width="1.3"/>
<rect x="360.50" y="422.10" width="4.40" height="4.40" fill="#18c018"/>
<rect x="380.45" y="421.70" width="4.40" height="4.40" fill="#18c018"/>
<rect x="400.40" y="416.45" width="4.40" height="4.40" fill="#18c018"/>
<rect x="420.35" y="414.03" width="4.40" height="4.40" fill="#18c018"/>
<polyline points="362.70,424.30 382.65,423.90 402.60,365.39 422.55,374.27" fill="none" stroke="#9010e0" stroke-width="1.3"/>
<line x1="422.55" y1="379.11" x2="422.55" y2="369.42" stroke="#9010e0" stroke-width="1.1"/>
<line x1="420.05" y1="369.42" x2="425.05" y2="369.42" stroke="#9010e0" stroke-width="1.1"/>
<line x1="420.05" y1="379.11" x2="425.05" y2="379.11" stroke="#9010e0" stroke-width="1.1"/>
<path d="M362.70,426.94L365.12,422.54L360.28,422.54Z" fill="#9010e0"/>
<path d="M382.65,426.54L385.07,422.14L380.23,422.14Z" fill="#9010e0"/>
<path d="M402.60,368.03L405.02,363.63L400.18,363.63Z" fill="#9010e0"/>
<path d="M422.55,376.91L424.97,372.51L420.13,372.51Z" fill="#9010e0"/>
<polyline points="362.70,424.30 382.65,423.90 402.60,363.78 422.55,368.62" fill="none" stroke="#2828ff" stroke-width="1.3"/>
<line x1="402.60" y1="366.20" x2="402.60" y2="361.35" stroke="#2828ff" stroke-width="1.1"/>
<line x1="400.10" y1="361.35" x2="405.10" y2="361.35" stroke="#2828ff" stroke-width="1.1"/>
<line x1="400.10" y1="366.20" x2="405.10" y2="366.20" stroke="#2828ff" stroke-width="1.1"/>
<line x1="422.55" y1="372.25" x2="422.55" y2="364.99" stroke="#2828ff" stroke-width="1.1"/>
<line x1="420.05" y1="364.99" x2="425.05" y2="364.99" stroke="#2828ff" stroke-width="1.1"/>
<line x1="420.05" y1="372.25" x2="425.05" y2="372.25" stroke="#2828ff" stroke-width="1.1"/>
<path d="M362.70,421.66L365.12,426.06L360.28,426.06Z" fill="#2828ff"/>
<path d="M382.65,421.26L385.07,425.66L380.23,425.66Z" fill="#2828ff"/>
<path d="M402.60,361.14L405.02,365.54L400.18,365.54Z" fill="#2828ff"/>
<path d="M422.55,365.98L424.97,370.38L420.13,370.38Z" fill="#2828ff"/>
<polyline points="362.70,424.30 382.65,423.90 402.60,370.63 422.55,387.99" fill="none" stroke="#ff2020" stroke-width="1.3"/>
<circle cx="362.70" cy="424.30" r="2.2" fill="#ff2020"/>
<circle cx="382.65" cy="423.90" r="2.2" fill="#ff2020"/>
<circle cx="402.60" cy="370.63" r="2.2" fill="#ff2020"/>
<circle cx="422.55" cy="387.99" r="2.2" fill="#ff2020"/>
<text x="369.00" y="320.00" font-size="12.2" font-style="italic" textLength="49.30" lengthAdjust="spacing">CXCL10</text>
<text x="331.80" y="335.60" font-size="13" textLength="36.40" lengthAdjust="spacingAndGlyphs">(×10<tspan font-size="8.5" dy="-5">3</tspan><tspan dy="5">)</tspan></text>
<line x1="462.90" y1="342.90" x2="462.90" y2="424.95" stroke="#222" stroke-width="1.3"/>
<line x1="462.25" y1="424.30" x2="543.00" y2="424.30" stroke="#222" stroke-width="1.3"/>
<line x1="462.90" y1="424.30" x2="466.20" y2="424.30" stroke="#222" stroke-width="1.3"/>
<text x="459.90" y="429.00" font-size="12" text-anchor="end" >0</text>
<line x1="462.90" y1="397.37" x2="466.20" y2="397.37" stroke="#222" stroke-width="1.3"/>
<text x="459.90" y="402.07" font-size="12" text-anchor="end" >50</text>
<line x1="462.90" y1="370.43" x2="466.20" y2="370.43" stroke="#222" stroke-width="1.3"/>
<text x="459.90" y="375.13" font-size="12" text-anchor="end" >100</text>
<line x1="462.90" y1="343.50" x2="466.20" y2="343.50" stroke="#222" stroke-width="1.3"/>
<text x="459.90" y="348.20" font-size="12" text-anchor="end" >150</text>
<line x1="473.00" y1="424.30" x2="473.00" y2="430.10" stroke="#222" stroke-width="1.3"/>
<text x="473.00" y="443.30" font-size="12.3" text-anchor="middle" >0</text>
<line x1="492.95" y1="424.30" x2="492.95" y2="430.10" stroke="#222" stroke-width="1.3"/>
<text x="492.95" y="443.30" font-size="12.3" text-anchor="middle" >3</text>
<line x1="512.90" y1="424.30" x2="512.90" y2="430.10" stroke="#222" stroke-width="1.3"/>
<text x="512.90" y="443.30" font-size="12.3" text-anchor="middle" >6</text>
<line x1="532.85" y1="424.30" x2="532.85" y2="430.10" stroke="#222" stroke-width="1.3"/>
<text x="532.85" y="443.30" font-size="12.3" text-anchor="middle" >9</text>
<polyline points="473.00,424.30 492.95,423.22 512.90,422.15 532.85,413.74" fill="none" stroke="#18c018" stroke-width="1.3"/>
<rect x="470.80" y="422.10" width="4.40" height="4.40" fill="#18c018"/>
<rect x="490.75" y="421.02" width="4.40" height="4.40" fill="#18c018"/>
<rect x="510.70" y="419.95" width="4.40" height="4.40" fill="#18c018"/>
<rect x="530.65" y="411.54" width="4.40" height="4.40" fill="#18c018"/>
<polyline points="473.00,424.30 492.95,405.45 512.90,392.25 532.85,373.34" fill="none" stroke="#9010e0" stroke-width="1.3"/>
<line x1="532.85" y1="377.65" x2="532.85" y2="369.03" stroke="#9010e0" stroke-width="1.1"/>
<line x1="530.35" y1="369.03" x2="535.35" y2="369.03" stroke="#9010e0" stroke-width="1.1"/>
<line x1="530.35" y1="377.65" x2="535.35" y2="377.65" stroke="#9010e0" stroke-width="1.1"/>
<path d="M473.00,426.94L475.42,422.54L470.58,422.54Z" fill="#9010e0"/>
<path d="M492.95,408.09L495.37,403.69L490.53,403.69Z" fill="#9010e0"/>
<path d="M512.90,394.89L515.32,390.49L510.48,390.49Z" fill="#9010e0"/>
<path d="M532.85,375.98L535.27,371.58L530.43,371.58Z" fill="#9010e0"/>
<polyline points="473.00,424.30 492.95,400.60 512.90,385.52 532.85,358.04" fill="none" stroke="#2828ff" stroke-width="1.3"/>
<path d="M473.00,421.66L475.42,426.06L470.58,426.06Z" fill="#2828ff"/>
<path d="M492.95,397.96L495.37,402.36L490.53,402.36Z" fill="#2828ff"/>
<path d="M512.90,382.88L515.32,387.28L510.48,387.28Z" fill="#2828ff"/>
<path d="M532.85,355.40L535.27,359.80L530.43,359.80Z" fill="#2828ff"/>
<polyline points="473.00,424.30 492.95,407.92 512.90,383.36 532.85,356.43" fill="none" stroke="#ff2020" stroke-width="1.3"/>
<circle cx="473.00" cy="424.30" r="2.2" fill="#ff2020"/>
<circle cx="492.95" cy="407.92" r="2.2" fill="#ff2020"/>
<circle cx="512.90" cy="383.36" r="2.2" fill="#ff2020"/>
<circle cx="532.85" cy="356.43" r="2.2" fill="#ff2020"/>
<text x="487.60" y="320.00" font-size="12.2" font-style="italic" textLength="32.00" lengthAdjust="spacing">TNFa</text>
<text x="540.80" y="443.30" font-size="12.3" text-anchor="start" >(h)</text>
<line x1="66.00" y1="503.30" x2="66.00" y2="585.15" stroke="#222" stroke-width="1.3"/>
<line x1="65.35" y1="584.50" x2="147.00" y2="584.50" stroke="#222" stroke-width="1.3"/>
<line x1="66.00" y1="584.50" x2="69.30" y2="584.50" stroke="#222" stroke-width="1.3"/>
<text x="63.00" y="589.20" font-size="12" text-anchor="end" >0</text>
<line x1="66.00" y1="568.38" x2="69.30" y2="568.38" stroke="#222" stroke-width="1.3"/>
<text x="63.00" y="573.08" font-size="12" text-anchor="end" >20</text>
<line x1="66.00" y1="552.26" x2="69.30" y2="552.26" stroke="#222" stroke-width="1.3"/>
<text x="63.00" y="556.96" font-size="12" text-anchor="end" >40</text>
<line x1="66.00" y1="536.14" x2="69.30" y2="536.14" stroke="#222" stroke-width="1.3"/>
<text x="63.00" y="540.84" font-size="12" text-anchor="end" >60</text>
<line x1="66.00" y1="520.02" x2="69.30" y2="520.02" stroke="#222" stroke-width="1.3"/>
<text x="63.00" y="524.72" font-size="12" text-anchor="end" >80</text>
<line x1="66.00" y1="503.90" x2="69.30" y2="503.90" stroke="#222" stroke-width="1.3"/>
<text x="63.00" y="508.60" font-size="12" text-anchor="end" >100</text>
<line x1="79.10" y1="584.50" x2="79.10" y2="590.30" stroke="#222" stroke-width="1.3"/>
<text x="79.10" y="603.40" font-size="12.3" text-anchor="middle" >0</text>
<line x1="106.10" y1="584.50" x2="106.10" y2="590.30" stroke="#222" stroke-width="1.3"/>
<text x="106.10" y="603.40" font-size="12.3" text-anchor="middle" >3</text>
<line x1="133.10" y1="584.50" x2="133.10" y2="590.30" stroke="#222" stroke-width="1.3"/>
<text x="133.10" y="603.40" font-size="12.3" text-anchor="middle" >6</text>
<polyline points="79.10,583.69 106.10,557.10 133.10,563.87" fill="none" stroke="#18c018" stroke-width="1.3"/>
<rect x="76.90" y="581.49" width="4.40" height="4.40" fill="#18c018"/>
<rect x="103.90" y="554.90" width="4.40" height="4.40" fill="#18c018"/>
<rect x="130.90" y="561.67" width="4.40" height="4.40" fill="#18c018"/>
<polyline points="79.10,583.69 106.10,528.48 133.10,556.29" fill="none" stroke="#9010e0" stroke-width="1.3"/>
<path d="M79.10,586.33L81.52,581.93L76.68,581.93Z" fill="#9010e0"/>
<path d="M106.10,531.12L108.52,526.72L103.68,526.72Z" fill="#9010e0"/>
<path d="M133.10,558.93L135.52,554.53L130.68,554.53Z" fill="#9010e0"/>
<polyline points="79.10,583.69 106.10,514.78 133.10,559.51" fill="none" stroke="#2828ff" stroke-width="1.3"/>
<path d="M79.10,581.05L81.52,585.45L76.68,585.45Z" fill="#2828ff"/>
<path d="M106.10,512.14L108.52,516.54L103.68,516.54Z" fill="#2828ff"/>
<path d="M133.10,556.87L135.52,561.27L130.68,561.27Z" fill="#2828ff"/>
<polyline points="79.10,583.69 106.10,525.10 133.10,554.68" fill="none" stroke="#ff2020" stroke-width="1.3"/>
<circle cx="79.10" cy="583.69" r="2.2" fill="#ff2020"/>
<circle cx="106.10" cy="525.10" r="2.2" fill="#ff2020"/>
<circle cx="133.10" cy="554.68" r="2.2" fill="#ff2020"/>
<text x="88.20" y="488.70" font-size="12.2" font-style="italic" textLength="36.60" lengthAdjust="spacing">IFNB1</text>
<text x="0" y="0" font-size="12.8" text-anchor="middle" transform="translate(40.60,545.00) rotate(-90)">mRNA Level</text>
<text x="14.00" y="603.40" font-size="13.2" textLength="52.00" lengthAdjust="spacingAndGlyphs">poly(I:C):</text>
<line x1="176.00" y1="503.30" x2="176.00" y2="585.05" stroke="#222" stroke-width="1.3"/>
<line x1="175.35" y1="584.40" x2="257.10" y2="584.40" stroke="#222" stroke-width="1.3"/>
<line x1="176.00" y1="584.40" x2="179.30" y2="584.40" stroke="#222" stroke-width="1.3"/>
<text x="173.00" y="589.10" font-size="12" text-anchor="end" >0</text>
<line x1="176.00" y1="568.30" x2="179.30" y2="568.30" stroke="#222" stroke-width="1.3"/>
<text x="173.00" y="573.00" font-size="12" text-anchor="end" >2</text>
<line x1="176.00" y1="552.20" x2="179.30" y2="552.20" stroke="#222" stroke-width="1.3"/>
<text x="173.00" y="556.90" font-size="12" text-anchor="end" >4</text>
<line x1="176.00" y1="536.10" x2="179.30" y2="536.10" stroke="#222" stroke-width="1.3"/>
<text x="173.00" y="540.80" font-size="12" text-anchor="end" >6</text>
<line x1="176.00" y1="520.00" x2="179.30" y2="520.00" stroke="#222" stroke-width="1.3"/>
<text x="173.00" y="524.70" font-size="12" text-anchor="end" >8</text>
<line x1="176.00" y1="503.90" x2="179.30" y2="503.90" stroke="#222" stroke-width="1.3"/>
<text x="173.00" y="508.60" font-size="12" text-anchor="end" >10</text>
<line x1="189.10" y1="584.40" x2="189.10" y2="590.20" stroke="#222" stroke-width="1.3"/>
<text x="189.10" y="603.60" font-size="12.3" text-anchor="middle" >0</text>
<line x1="215.90" y1="584.40" x2="215.90" y2="590.20" stroke="#222" stroke-width="1.3"/>
<text x="215.90" y="603.60" font-size="12.3" text-anchor="middle" >3</text>
<line x1="242.80" y1="584.40" x2="242.80" y2="590.20" stroke="#222" stroke-width="1.3"/>
<text x="242.80" y="603.60" font-size="12.3" text-anchor="middle" >6</text>
<polyline points="189.10,583.27 215.90,580.38 242.80,573.13" fill="none" stroke="#18c018" stroke-width="1.3"/>
<rect x="186.90" y="581.07" width="4.40" height="4.40" fill="#18c018"/>
<rect x="213.70" y="578.17" width="4.40" height="4.40" fill="#18c018"/>
<rect x="240.60" y="570.93" width="4.40" height="4.40" fill="#18c018"/>
<polyline points="189.10,576.35 215.90,563.47 242.80,518.39" fill="none" stroke="#9010e0" stroke-width="1.3"/>
<line x1="242.80" y1="520.80" x2="242.80" y2="515.98" stroke="#9010e0" stroke-width="1.1"/>
<line x1="240.30" y1="515.98" x2="245.30" y2="515.98" stroke="#9010e0" stroke-width="1.1"/>
<line x1="240.30" y1="520.80" x2="245.30" y2="520.80" stroke="#9010e0" stroke-width="1.1"/>
<path d="M189.10,578.99L191.52,574.59L186.68,574.59Z" fill="#9010e0"/>
<path d="M215.90,566.11L218.32,561.71L213.48,561.71Z" fill="#9010e0"/>
<path d="M242.80,521.03L245.22,516.63L240.38,516.63Z" fill="#9010e0"/>
<polyline points="189.10,576.35 215.90,562.26 242.80,522.41" fill="none" stroke="#2828ff" stroke-width="1.3"/>
<path d="M189.10,573.71L191.52,578.11L186.68,578.11Z" fill="#2828ff"/>
<path d="M215.90,559.62L218.32,564.02L213.48,564.02Z" fill="#2828ff"/>
<path d="M242.80,519.77L245.22,524.17L240.38,524.17Z" fill="#2828ff"/>
<polyline points="189.10,576.35 215.90,567.50 242.80,526.44" fill="none" stroke="#ff2020" stroke-width="1.3"/>
<circle cx="189.10" cy="576.35" r="2.2" fill="#ff2020"/>
<circle cx="215.90" cy="567.50" r="2.2" fill="#ff2020"/>
<circle cx="242.80" cy="526.44" r="2.2" fill="#ff2020"/>
<text x="191.90" y="488.70" font-size="12.2" font-style="italic" textLength="48.70" lengthAdjust="spacing">CXCL10</text>
<text x="254.00" y="603.60" font-size="12.3" text-anchor="start" >(h)</text>
<line x1="344.00" y1="502.70" x2="344.00" y2="584.65" stroke="#222" stroke-width="1.3"/>
<line x1="343.35" y1="584.00" x2="426.00" y2="584.00" stroke="#222" stroke-width="1.3"/>
<line x1="344.00" y1="584.00" x2="347.30" y2="584.00" stroke="#222" stroke-width="1.3"/>
<text x="341.00" y="588.70" font-size="12" text-anchor="end" >0</text>
<line x1="344.00" y1="567.86" x2="347.30" y2="567.86" stroke="#222" stroke-width="1.3"/>
<text x="341.00" y="572.56" font-size="12" text-anchor="end" >10</text>
<line x1="344.00" y1="551.72" x2="347.30" y2="551.72" stroke="#222" stroke-width="1.3"/>
<text x="341.00" y="556.42" font-size="12" text-anchor="end" >20</text>
<line x1="344.00" y1="535.58" x2="347.30" y2="535.58" stroke="#222" stroke-width="1.3"/>
<text x="341.00" y="540.28" font-size="12" text-anchor="end" >30</text>
<line x1="344.00" y1="519.44" x2="347.30" y2="519.44" stroke="#222" stroke-width="1.3"/>
<text x="341.00" y="524.14" font-size="12" text-anchor="end" >40</text>
<line x1="344.00" y1="503.30" x2="347.30" y2="503.30" stroke="#222" stroke-width="1.3"/>
<text x="341.00" y="508.00" font-size="12" text-anchor="end" >50</text>
<line x1="357.30" y1="584.00" x2="357.30" y2="589.80" stroke="#222" stroke-width="1.3"/>
<text x="357.30" y="603.20" font-size="12.3" text-anchor="middle" >0</text>
<line x1="384.00" y1="584.00" x2="384.00" y2="589.80" stroke="#222" stroke-width="1.3"/>
<text x="384.00" y="603.20" font-size="12.3" text-anchor="middle" >3</text>
<line x1="410.70" y1="584.00" x2="410.70" y2="589.80" stroke="#222" stroke-width="1.3"/>
<text x="410.70" y="603.20" font-size="12.3" text-anchor="middle" >6</text>
<polyline points="357.30,582.39 384.00,575.93 410.70,571.25" fill="none" stroke="#18c018" stroke-width="1.3"/>
<rect x="355.10" y="580.19" width="4.40" height="4.40" fill="#18c018"/>
<rect x="381.80" y="573.73" width="4.40" height="4.40" fill="#18c018"/>
<rect x="408.50" y="569.05" width="4.40" height="4.40" fill="#18c018"/>
<polyline points="357.30,582.39 384.00,568.51 410.70,510.24" fill="none" stroke="#9010e0" stroke-width="1.3"/>
<line x1="410.70" y1="512.66" x2="410.70" y2="507.82" stroke="#9010e0" stroke-width="1.1"/>
<line x1="408.20" y1="507.82" x2="413.20" y2="507.82" stroke="#9010e0" stroke-width="1.1"/>
<line x1="408.20" y1="512.66" x2="413.20" y2="512.66" stroke="#9010e0" stroke-width="1.1"/>
<path d="M357.30,585.03L359.72,580.63L354.88,580.63Z" fill="#9010e0"/>
<path d="M384.00,571.15L386.42,566.75L381.58,566.75Z" fill="#9010e0"/>
<path d="M410.70,512.88L413.12,508.48L408.28,508.48Z" fill="#9010e0"/>
<polyline points="357.30,582.39 384.00,567.86 410.70,516.21" fill="none" stroke="#2828ff" stroke-width="1.3"/>
<path d="M357.30,579.75L359.72,584.15L354.88,584.15Z" fill="#2828ff"/>
<path d="M384.00,565.22L386.42,569.62L381.58,569.62Z" fill="#2828ff"/>
<path d="M410.70,513.57L413.12,517.97L408.28,517.97Z" fill="#2828ff"/>
<polyline points="357.30,582.39 384.00,565.60 410.70,524.60" fill="none" stroke="#ff2020" stroke-width="1.3"/>
<circle cx="357.30" cy="582.39" r="2.2" fill="#ff2020"/>
<circle cx="384.00" cy="565.60" r="2.2" fill="#ff2020"/>
<circle cx="410.70" cy="524.60" r="2.2" fill="#ff2020"/>
<text x="366.20" y="488.60" font-size="12.2" font-style="italic" textLength="36.60" lengthAdjust="spacing">IFNB1</text>
<text x="0" y="0" font-size="12.7" text-anchor="middle" transform="translate(321.50,544.70) rotate(-90)">mRNA Level</text>
<text x="293.20" y="603.20" font-size="13.2" textLength="51.20" lengthAdjust="spacingAndGlyphs">HT-DNA:</text>
<line x1="455.30" y1="504.70" x2="455.30" y2="585.85" stroke="#222" stroke-width="1.3"/>
<line x1="454.65" y1="585.20" x2="536.70" y2="585.20" stroke="#222" stroke-width="1.3"/>
<line x1="455.30" y1="585.20" x2="458.60" y2="585.20" stroke="#222" stroke-width="1.3"/>
<text x="452.30" y="589.90" font-size="12" text-anchor="end" >0</text>
<line x1="455.30" y1="565.23" x2="458.60" y2="565.23" stroke="#222" stroke-width="1.3"/>
<text x="452.30" y="569.93" font-size="12" text-anchor="end" >100</text>
<line x1="455.30" y1="545.25" x2="458.60" y2="545.25" stroke="#222" stroke-width="1.3"/>
<text x="452.30" y="549.95" font-size="12" text-anchor="end" >200</text>
<line x1="455.30" y1="525.27" x2="458.60" y2="525.27" stroke="#222" stroke-width="1.3"/>
<text x="452.30" y="529.98" font-size="12" text-anchor="end" >300</text>
<line x1="455.30" y1="505.30" x2="458.60" y2="505.30" stroke="#222" stroke-width="1.3"/>
<text x="452.30" y="510.00" font-size="12" text-anchor="end" >400</text>
<line x1="468.10" y1="585.20" x2="468.10" y2="591.00" stroke="#222" stroke-width="1.3"/>
<text x="468.10" y="604.20" font-size="12.3" text-anchor="middle" >0</text>
<line x1="494.90" y1="585.20" x2="494.90" y2="591.00" stroke="#222" stroke-width="1.3"/>
<text x="494.90" y="604.20" font-size="12.3" text-anchor="middle" >3</text>
<line x1="521.90" y1="585.20" x2="521.90" y2="591.00" stroke="#222" stroke-width="1.3"/>
<text x="521.90" y="604.20" font-size="12.3" text-anchor="middle" >6</text>
<polyline points="468.10,585.20 494.90,585.20 521.90,582.80" fill="none" stroke="#18c018" stroke-width="1.3"/>
<rect x="465.90" y="583.00" width="4.40" height="4.40" fill="#18c018"/>
<rect x="492.70" y="583.00" width="4.40" height="4.40" fill="#18c018"/>
<rect x="519.70" y="580.60" width="4.40" height="4.40" fill="#18c018"/>
<polyline points="468.10,585.20 494.90,585.20 521.90,524.08" fill="none" stroke="#9010e0" stroke-width="1.3"/>
<line x1="521.90" y1="527.07" x2="521.90" y2="521.08" stroke="#9010e0" stroke-width="1.1"/>
<line x1="519.40" y1="521.08" x2="524.40" y2="521.08" stroke="#9010e0" stroke-width="1.1"/>
<line x1="519.40" y1="527.07" x2="524.40" y2="527.07" stroke="#9010e0" stroke-width="1.1"/>
<path d="M468.10,587.84L470.52,583.44L465.68,583.44Z" fill="#9010e0"/>
<path d="M494.90,587.84L497.32,583.44L492.48,583.44Z" fill="#9010e0"/>
<path d="M521.90,526.72L524.32,522.32L519.48,522.32Z" fill="#9010e0"/>
<polyline points="468.10,585.20 494.90,585.20 521.90,544.25" fill="none" stroke="#2828ff" stroke-width="1.3"/>
<path d="M468.10,582.56L470.52,586.96L465.68,586.96Z" fill="#2828ff"/>
<path d="M494.90,582.56L497.32,586.96L492.48,586.96Z" fill="#2828ff"/>
<path d="M521.90,541.61L524.32,546.01L519.48,546.01Z" fill="#2828ff"/>
<polyline points="468.10,585.20 494.90,585.20 521.90,545.85" fill="none" stroke="#ff2020" stroke-width="1.3"/>
<circle cx="468.10" cy="585.20" r="2.2" fill="#ff2020"/>
<circle cx="494.90" cy="585.20" r="2.2" fill="#ff2020"/>
<circle cx="521.90" cy="545.85" r="2.2" fill="#ff2020"/>
<text x="470.80" y="490.40" font-size="12.2" font-style="italic" textLength="48.40" lengthAdjust="spacing">CXCL10</text>
<text x="533.20" y="604.20" font-size="12.3" text-anchor="start" >(h)</text>
<line x1="548.20" y1="507.20" x2="570.90" y2="507.20" stroke="#ff2020" stroke-width="1.2"/>
<circle cx="559.55" cy="507.20" r="2.2" fill="#ff2020"/>
<text x="583.30" y="511.80" font-size="12.5" textLength="25.40" lengthAdjust="spacingAndGlyphs">g<tspan font-style="italic">NC</tspan></text>
<line x1="548.20" y1="525.90" x2="570.90" y2="525.90" stroke="#18c018" stroke-width="1.2"/>
<rect x="557.35" y="523.70" width="4.40" height="4.40" fill="#18c018"/>
<text x="583.30" y="530.50" font-size="12.5" textLength="55.80" lengthAdjust="spacingAndGlyphs">g<tspan font-style="italic">NC</tspan>+ISO</text>
<line x1="548.20" y1="544.80" x2="570.90" y2="544.80" stroke="#2828ff" stroke-width="1.2"/>
<path d="M559.55,542.16L561.97,546.56L557.13,546.56Z" fill="#2828ff"/>
<text x="583.30" y="549.40" font-size="12.5" textLength="87.40" lengthAdjust="spacingAndGlyphs">g<tspan font-style="italic">ADRB1/2</tspan><tspan dx="1.5">(</tspan>#1<tspan dx="0.5">)</tspan></text>
<line x1="548.20" y1="564.00" x2="570.90" y2="564.00" stroke="#9010e0" stroke-width="1.2"/>
<path d="M559.55,566.64L561.97,562.24L557.13,562.24Z" fill="#9010e0"/>
<text x="583.30" y="568.60" font-size="12.5" textLength="119.00" lengthAdjust="spacingAndGlyphs">g<tspan font-style="italic">ADRB1/2</tspan><tspan dx="1.5">(</tspan>#1<tspan dx="0.5">)</tspan>+ISO</text>
<rect x="57.80" y="83.80" width="40.50" height="20.20" fill="#d2d2d2" stroke="#1a1a1a" stroke-width="1.2"/>
<rect x="57.80" y="108.90" width="40.50" height="23.90" fill="#d2d2d2" stroke="#1a1a1a" stroke-width="1.2"/>
<rect x="57.80" y="137.80" width="40.50" height="20.10" fill="#d2d2d2" stroke="#1a1a1a" stroke-width="1.2"/>
<rect x="61" y="88.5" width="15" height="8" rx="3" fill="rgb(178,178,178)" filter="url(#b4)"/>
<rect x="61" y="114.5" width="16.5" height="13" rx="3" fill="rgb(170,170,170)" filter="url(#b4)"/>
<rect x="61.5" y="119" width="15.5" height="6.5" rx="3" fill="rgb(140,140,140)" filter="url(#b4)"/>
<rect x="61.55" y="145.00" width="17.50" height="6.80" rx="2.20" fill="rgb(43,43,43)" filter="url(#b1)"/>
<rect x="76.65" y="145.20" width="17.50" height="6.80" rx="2.20" fill="rgb(43,43,43)" filter="url(#b1)"/>
<text x="100.60" y="96.60" font-size="12.8" textLength="46.50" lengthAdjust="spacingAndGlyphs">-ADRB1</text>
<text x="100.60" y="126.30" font-size="12.8" textLength="46.50" lengthAdjust="spacingAndGlyphs">-ADRB2</text>
<text x="100.60" y="150.00" font-size="12.8" textLength="43.00" lengthAdjust="spacingAndGlyphs">-<tspan font-family="Liberation Serif">β</tspan>-Actin</text>
<text x="56.30" y="90.30" font-size="12.6" text-anchor="end" >85-</text>
<text x="56.30" y="114.20" font-size="12.6" text-anchor="end" >85-</text>
<text x="56.30" y="148.20" font-size="12.6" text-anchor="end" >49-</text>
<text x="31.6" y="164.8" font-size="12.8" textLength="25.3" lengthAdjust="spacingAndGlyphs">KDa</text>
<text x="0" y="0" font-size="12.8" transform="translate(68.2,80.3) rotate(-60)">gNC</text>
<text x="0" y="0" font-size="12.8" transform="translate(88.0,80.3) rotate(-58)">gADRB1/2(#1)</text>
<rect x="40.70" y="697.90" width="243.30" height="19.80" fill="#cecece" stroke="#1a1a1a" stroke-width="1.2"/>
<rect x="49.30" y="708.20" width="15.00" height="4.20" rx="1.68" fill="rgb(143,143,143)" filter="url(#b1)"/>
<rect x="69.00" y="708.20" width="15.00" height="4.20" rx="1.68" fill="rgb(93,93,93)" filter="url(#b1)"/>
<rect x="88.80" y="708.20" width="15.00" height="4.20" rx="1.68" fill="rgb(83,83,83)" filter="url(#b1)"/>
<rect x="108.30" y="708.20" width="15.00" height="4.20" rx="1.68" fill="rgb(103,103,103)" filter="url(#b1)"/>
<rect x="127.70" y="708.20" width="15.00" height="4.20" rx="1.68" fill="rgb(83,83,83)" filter="url(#b1)"/>
<rect x="147.10" y="708.20" width="15.00" height="4.20" rx="1.68" fill="rgb(59,59,59)" filter="url(#b1)"/>
<rect x="166.80" y="708.20" width="15.00" height="4.20" rx="1.68" fill="rgb(123,123,123)" filter="url(#b1)"/>
<rect x="186.30" y="708.20" width="15.00" height="4.20" rx="1.68" fill="rgb(123,123,123)" filter="url(#b1)"/>
<rect x="205.90" y="708.20" width="15.00" height="4.20" rx="1.68" fill="rgb(83,83,83)" filter="url(#b1)"/>
<rect x="225.80" y="708.20" width="15.00" height="4.20" rx="1.68" fill="rgb(119,119,119)" filter="url(#b1)"/>
<rect x="245.30" y="708.20" width="15.00" height="4.20" rx="1.68" fill="rgb(79,79,79)" filter="url(#b1)"/>
<rect x="265.40" y="707.00" width="15.00" height="4.20" rx="1.68" fill="rgb(103,103,103)" filter="url(#b1)"/>
<text x="286.50" y="711.90" font-size="12.8" textLength="63.50" lengthAdjust="spacingAndGlyphs">-pTBK1<tspan font-size="9" dy="-5">S172</tspan></text>
<rect x="40.70" y="721.95" width="243.30" height="19.80" fill="#cecece" stroke="#1a1a1a" stroke-width="1.2"/>
<rect x="49.05" y="733.95" width="15.50" height="5.70" rx="2" fill="rgb(158,158,158)" filter="url(#b3)"/>
<rect x="48.05" y="731.25" width="17.50" height="5.40" rx="2.16" fill="rgb(23,23,23)" filter="url(#b1)"/>
<rect x="68.75" y="733.95" width="15.50" height="5.70" rx="2" fill="rgb(159,159,159)" filter="url(#b3)"/>
<rect x="67.75" y="731.25" width="17.50" height="5.40" rx="2.16" fill="rgb(27,27,27)" filter="url(#b1)"/>
<rect x="88.55" y="733.95" width="15.50" height="5.70" rx="2" fill="rgb(157,157,157)" filter="url(#b3)"/>
<rect x="87.55" y="731.25" width="17.50" height="5.40" rx="2.16" fill="rgb(19,19,19)" filter="url(#b1)"/>
<rect x="108.05" y="733.95" width="15.50" height="5.70" rx="2" fill="rgb(156,156,156)" filter="url(#b3)"/>
<rect x="107.05" y="731.25" width="17.50" height="5.40" rx="2.16" fill="rgb(15,15,15)" filter="url(#b1)"/>
<rect x="127.45" y="733.95" width="15.50" height="5.70" rx="2" fill="rgb(154,154,154)" filter="url(#b3)"/>
<rect x="126.45" y="731.25" width="17.50" height="5.40" rx="2.16" fill="rgb(9,9,9)" filter="url(#b1)"/>
<rect x="146.85" y="733.95" width="15.50" height="5.70" rx="2" fill="rgb(154,154,154)" filter="url(#b3)"/>
<rect x="145.85" y="731.25" width="17.50" height="5.40" rx="2.16" fill="rgb(7,7,7)" filter="url(#b1)"/>
<rect x="166.55" y="733.95" width="15.50" height="5.70" rx="2" fill="rgb(155,155,155)" filter="url(#b3)"/>
<rect x="165.55" y="731.25" width="17.50" height="5.40" rx="2.16" fill="rgb(11,11,11)" filter="url(#b1)"/>
<rect x="186.05" y="733.95" width="15.50" height="5.70" rx="2" fill="rgb(156,156,156)" filter="url(#b3)"/>
<rect x="185.05" y="731.25" width="17.50" height="5.40" rx="2.16" fill="rgb(13,13,13)" filter="url(#b1)"/>
<rect x="205.65" y="733.95" width="15.50" height="5.70" rx="2" fill="rgb(156,156,156)" filter="url(#b3)"/>
<rect x="204.65" y="731.25" width="17.50" height="5.40" rx="2.16" fill="rgb(15,15,15)" filter="url(#b1)"/>
<rect x="225.55" y="733.95" width="15.50" height="5.70" rx="2" fill="rgb(156,156,156)" filter="url(#b3)"/>
<rect x="224.55" y="731.25" width="17.50" height="5.40" rx="2.16" fill="rgb(17,17,17)" filter="url(#b1)"/>
<rect x="245.05" y="733.95" width="15.50" height="5.70" rx="2" fill="rgb(158,158,158)" filter="url(#b3)"/>
<rect x="244.05" y="731.25" width="17.50" height="5.40" rx="2.16" fill="rgb(23,23,23)" filter="url(#b1)"/>
<rect x="265.15" y="733.95" width="15.50" height="5.70" rx="2" fill="rgb(159,159,159)" filter="url(#b3)"/>
<rect x="264.15" y="731.25" width="17.50" height="5.40" rx="2.16" fill="rgb(27,27,27)" filter="url(#b1)"/>
<text x="286.50" y="734.60" font-size="12.8" textLength="35.50" lengthAdjust="spacingAndGlyphs">-TBK1</text>
<rect x="40.70" y="746.00" width="243.30" height="19.80" fill="#cecece" stroke="#1a1a1a" stroke-width="1.2"/>
<rect x="68.25" y="753.85" width="16.50" height="7.50" rx="2.20" fill="rgb(143,143,143)" filter="url(#b1)"/>
<rect x="88.05" y="753.85" width="16.50" height="7.50" rx="2.20" fill="rgb(27,27,27)" filter="url(#b1)"/>
<rect x="126.95" y="753.85" width="16.50" height="7.50" rx="2.20" fill="rgb(187,187,187)" filter="url(#b1)"/>
<rect x="146.35" y="753.85" width="16.50" height="7.50" rx="2.20" fill="rgb(83,83,83)" filter="url(#b1)"/>
<rect x="185.55" y="753.85" width="16.50" height="7.50" rx="2.20" fill="rgb(167,167,167)" filter="url(#b1)"/>
<rect x="205.15" y="753.85" width="16.50" height="7.50" rx="2.20" fill="rgb(53,53,53)" filter="url(#b1)"/>
<rect x="244.55" y="753.85" width="16.50" height="7.50" rx="2.20" fill="rgb(179,179,179)" filter="url(#b1)"/>
<rect x="264.65" y="753.85" width="16.50" height="7.50" rx="2.20" fill="rgb(33,33,33)" filter="url(#b1)"/>
<text x="286.50" y="758.90" font-size="12.8" textLength="59.50" lengthAdjust="spacingAndGlyphs">-pIRF3<tspan font-size="9" dy="-5">S386</tspan></text>
<rect x="40.70" y="770.05" width="243.30" height="19.80" fill="#cecece" stroke="#1a1a1a" stroke-width="1.2"/>
<rect x="48.05" y="776.35" width="17.50" height="7.20" rx="2.20" fill="rgb(39,39,39)" filter="url(#b1)"/>
<rect x="67.75" y="776.35" width="17.50" height="7.20" rx="2.20" fill="rgb(27,27,27)" filter="url(#b1)"/>
<rect x="87.55" y="776.35" width="17.50" height="7.20" rx="2.20" fill="rgb(59,59,59)" filter="url(#b1)"/>
<rect x="107.05" y="776.35" width="17.50" height="7.20" rx="2.20" fill="rgb(39,39,39)" filter="url(#b1)"/>
<rect x="126.45" y="776.35" width="17.50" height="7.20" rx="2.20" fill="rgb(67,67,67)" filter="url(#b1)"/>
<rect x="145.85" y="776.35" width="17.50" height="7.20" rx="2.20" fill="rgb(67,67,67)" filter="url(#b1)"/>
<rect x="165.55" y="776.35" width="17.50" height="7.20" rx="2.20" fill="rgb(59,59,59)" filter="url(#b1)"/>
<rect x="185.05" y="776.35" width="17.50" height="7.20" rx="2.20" fill="rgb(39,39,39)" filter="url(#b1)"/>
<rect x="204.65" y="776.35" width="17.50" height="7.20" rx="2.20" fill="rgb(13,13,13)" filter="url(#b1)"/>
<rect x="224.55" y="776.35" width="17.50" height="7.20" rx="2.20" fill="rgb(59,59,59)" filter="url(#b1)"/>
<rect x="244.05" y="776.35" width="17.50" height="7.20" rx="2.20" fill="rgb(67,67,67)" filter="url(#b1)"/>
<rect x="264.15" y="776.35" width="17.50" height="7.20" rx="2.20" fill="rgb(67,67,67)" filter="url(#b1)"/>
<text x="286.50" y="782.00" font-size="12.8" textLength="34.50" lengthAdjust="spacingAndGlyphs">-IRF3</text>
<rect x="40.70" y="793.70" width="243.30" height="20.50" fill="#cecece" stroke="#1a1a1a" stroke-width="1.2"/>
<rect x="68.50" y="801.35" width="16.00" height="6.50" rx="2.20" fill="rgb(9,9,9)" filter="url(#b1)"/>
<rect x="88.30" y="801.35" width="16.00" height="6.50" rx="2.20" fill="rgb(183,183,183)" filter="url(#b1)"/>
<rect x="127.20" y="801.35" width="16.00" height="6.50" rx="2.20" fill="rgb(103,103,103)" filter="url(#b1)"/>
<rect x="146.60" y="801.35" width="16.00" height="6.50" rx="2.20" fill="rgb(103,103,103)" filter="url(#b1)"/>
<rect x="185.80" y="801.35" width="16.00" height="6.50" rx="2.20" fill="rgb(13,13,13)" filter="url(#b1)"/>
<rect x="205.40" y="801.35" width="16.00" height="6.50" rx="2.20" fill="rgb(163,163,163)" filter="url(#b1)"/>
<rect x="244.80" y="801.35" width="16.00" height="6.50" rx="2.20" fill="rgb(13,13,13)" filter="url(#b1)"/>
<rect x="264.90" y="801.35" width="16.00" height="6.50" rx="2.20" fill="rgb(153,153,153)" filter="url(#b1)"/>
<text x="286.50" y="807.40" font-size="12.8" textLength="70.00" lengthAdjust="spacingAndGlyphs">-pSTAT1<tspan font-size="9" dy="-5">Y701</tspan></text>
<rect x="40.70" y="817.50" width="243.30" height="20.20" fill="#cecece" stroke="#1a1a1a" stroke-width="1.2"/>
<rect x="49.05" y="825.20" width="15.50" height="6.90" rx="2" fill="rgb(153,153,153)" filter="url(#b3)"/>
<rect x="48.05" y="822.30" width="17.50" height="5.80" rx="2.20" fill="rgb(3,3,3)" filter="url(#b1)"/>
<rect x="68.75" y="825.20" width="15.50" height="6.90" rx="2" fill="rgb(153,153,153)" filter="url(#b3)"/>
<rect x="67.75" y="822.30" width="17.50" height="5.80" rx="2.20" fill="rgb(3,3,3)" filter="url(#b1)"/>
<rect x="88.55" y="825.20" width="15.50" height="6.90" rx="2" fill="rgb(153,153,153)" filter="url(#b3)"/>
<rect x="87.55" y="822.30" width="17.50" height="5.80" rx="2.20" fill="rgb(3,3,3)" filter="url(#b1)"/>
<rect x="108.05" y="825.20" width="15.50" height="6.90" rx="2" fill="rgb(153,153,153)" filter="url(#b3)"/>
<rect x="107.05" y="822.30" width="17.50" height="5.80" rx="2.20" fill="rgb(3,3,3)" filter="url(#b1)"/>
<rect x="127.45" y="825.20" width="15.50" height="6.90" rx="2" fill="rgb(153,153,153)" filter="url(#b3)"/>
<rect x="126.45" y="822.30" width="17.50" height="5.80" rx="2.20" fill="rgb(3,3,3)" filter="url(#b1)"/>
<rect x="146.85" y="825.20" width="15.50" height="6.90" rx="2" fill="rgb(153,153,153)" filter="url(#b3)"/>
<rect x="145.85" y="822.30" width="17.50" height="5.80" rx="2.20" fill="rgb(3,3,3)" filter="url(#b1)"/>
<rect x="166.55" y="825.20" width="15.50" height="6.90" rx="2" fill="rgb(153,153,153)" filter="url(#b3)"/>
<rect x="165.55" y="822.30" width="17.50" height="5.80" rx="2.20" fill="rgb(3,3,3)" filter="url(#b1)"/>
<rect x="186.05" y="825.20" width="15.50" height="6.90" rx="2" fill="rgb(153,153,153)" filter="url(#b3)"/>
<rect x="185.05" y="822.30" width="17.50" height="5.80" rx="2.20" fill="rgb(3,3,3)" filter="url(#b1)"/>
<rect x="205.65" y="825.20" width="15.50" height="6.90" rx="2" fill="rgb(153,153,153)" filter="url(#b3)"/>
<rect x="204.65" y="822.30" width="17.50" height="5.80" rx="2.20" fill="rgb(3,3,3)" filter="url(#b1)"/>
<rect x="225.55" y="825.20" width="15.50" height="6.90" rx="2" fill="rgb(153,153,153)" filter="url(#b3)"/>
<rect x="224.55" y="822.30" width="17.50" height="5.80" rx="2.20" fill="rgb(3,3,3)" filter="url(#b1)"/>
<rect x="245.05" y="825.20" width="15.50" height="6.90" rx="2" fill="rgb(156,156,156)" filter="url(#b3)"/>
<rect x="244.05" y="822.30" width="17.50" height="5.80" rx="2.20" fill="rgb(13,13,13)" filter="url(#b1)"/>
<rect x="265.15" y="825.20" width="15.50" height="6.90" rx="2" fill="rgb(158,158,158)" filter="url(#b3)"/>
<rect x="264.15" y="822.30" width="17.50" height="5.80" rx="2.20" fill="rgb(23,23,23)" filter="url(#b1)"/>
<text x="286.50" y="828.50" font-size="12.8" textLength="42.00" lengthAdjust="spacingAndGlyphs">-STAT1</text>
<rect x="40.70" y="841.20" width="243.30" height="20.50" fill="#cecece" stroke="#1a1a1a" stroke-width="1.2"/>
<rect x="47.70" y="848.20" width="18.20" height="6.40" rx="2.20" fill="rgb(39,39,39)" filter="url(#b1)"/>
<rect x="67.40" y="848.20" width="18.20" height="6.40" rx="2.20" fill="rgb(39,39,39)" filter="url(#b1)"/>
<rect x="87.20" y="848.20" width="18.20" height="6.40" rx="2.20" fill="rgb(39,39,39)" filter="url(#b1)"/>
<rect x="106.70" y="848.20" width="18.20" height="6.40" rx="2.20" fill="rgb(47,47,47)" filter="url(#b1)"/>
<rect x="126.10" y="848.20" width="18.20" height="6.40" rx="2.20" fill="rgb(27,27,27)" filter="url(#b1)"/>
<rect x="145.50" y="848.20" width="18.20" height="6.40" rx="2.20" fill="rgb(39,39,39)" filter="url(#b1)"/>
<rect x="165.20" y="848.20" width="18.20" height="6.40" rx="2.20" fill="rgb(39,39,39)" filter="url(#b1)"/>
<rect x="184.70" y="848.20" width="18.20" height="6.40" rx="2.20" fill="rgb(63,63,63)" filter="url(#b1)"/>
<rect x="204.30" y="848.20" width="18.20" height="6.40" rx="2.20" fill="rgb(73,73,73)" filter="url(#b1)"/>
<rect x="224.20" y="848.20" width="18.20" height="6.40" rx="2.20" fill="rgb(39,39,39)" filter="url(#b1)"/>
<rect x="243.70" y="848.20" width="18.20" height="6.40" rx="2.20" fill="rgb(39,39,39)" filter="url(#b1)"/>
<rect x="263.80" y="848.20" width="18.20" height="6.40" rx="2.20" fill="rgb(39,39,39)" filter="url(#b1)"/>
<text x="286.50" y="852.40" font-size="12.8" textLength="44.00" lengthAdjust="spacingAndGlyphs">-<tspan font-family="Liberation Serif">β</tspan>-Actin</text>
<text x="39.00" y="715.20" font-size="12.8" text-anchor="end" >85-</text>
<text x="39.00" y="735.90" font-size="12.8" text-anchor="end" >85-</text>
<text x="39.00" y="767.00" font-size="12.8" text-anchor="end" >49-</text>
<text x="39.00" y="791.00" font-size="12.8" text-anchor="end" >49-</text>
<text x="39.00" y="810.40" font-size="12.8" text-anchor="end" >85-</text>
<text x="39.00" y="831.30" font-size="12.8" text-anchor="end" >85-</text>
<text x="39.00" y="850.40" font-size="12.8" text-anchor="end" >49-</text>
<text x="14.3" y="871.0" font-size="12.8" textLength="25.0" lengthAdjust="spacingAndGlyphs">KDa</text>
<rect x="388.50" y="696.20" width="243.30" height="19.80" fill="#cecece" stroke="#1a1a1a" stroke-width="1.2"/>
<rect x="392.90" y="704.50" width="16.00" height="4.80" rx="1.92" fill="rgb(113,113,113)" filter="url(#b1)"/>
<rect x="412.40" y="704.50" width="16.00" height="4.80" rx="1.92" fill="rgb(27,27,27)" filter="url(#b1)"/>
<rect x="432.10" y="704.50" width="16.00" height="4.80" rx="1.92" fill="rgb(39,39,39)" filter="url(#b1)"/>
<rect x="451.90" y="704.50" width="16.00" height="4.80" rx="1.92" fill="rgb(59,59,59)" filter="url(#b1)"/>
<rect x="471.90" y="704.50" width="16.00" height="4.80" rx="1.92" fill="rgb(79,79,79)" filter="url(#b1)"/>
<rect x="491.20" y="704.50" width="16.00" height="4.80" rx="1.92" fill="rgb(27,27,27)" filter="url(#b1)"/>
<rect x="512.20" y="704.50" width="16.00" height="4.80" rx="1.92" fill="rgb(79,79,79)" filter="url(#b1)"/>
<rect x="532.00" y="704.50" width="16.00" height="4.80" rx="1.92" fill="rgb(33,33,33)" filter="url(#b1)"/>
<rect x="551.50" y="704.50" width="16.00" height="4.80" rx="1.92" fill="rgb(33,33,33)" filter="url(#b1)"/>
<rect x="571.20" y="704.50" width="16.00" height="4.80" rx="1.92" fill="rgb(47,47,47)" filter="url(#b1)"/>
<rect x="591.00" y="704.50" width="16.00" height="4.80" rx="1.92" fill="rgb(33,33,33)" filter="url(#b1)"/>
<rect x="611.20" y="704.50" width="16.00" height="4.80" rx="1.92" fill="rgb(33,33,33)" filter="url(#b1)"/>
<text x="634.80" y="710.80" font-size="12.8" textLength="63.50" lengthAdjust="spacingAndGlyphs">-pTBK1<tspan font-size="9" dy="-5">S172</tspan></text>
<rect x="388.50" y="720.00" width="243.30" height="20.30" fill="#cecece" stroke="#1a1a1a" stroke-width="1.2"/>
<rect x="392.65" y="725.20" width="16.50" height="6.20" rx="2.20" fill="rgb(13,13,13)" filter="url(#b1)"/>
<rect x="412.15" y="725.65" width="16.50" height="6.20" rx="2.20" fill="rgb(13,13,13)" filter="url(#b1)"/>
<rect x="431.85" y="726.10" width="16.50" height="6.20" rx="2.20" fill="rgb(13,13,13)" filter="url(#b1)"/>
<rect x="451.65" y="726.55" width="16.50" height="6.20" rx="2.20" fill="rgb(9,9,9)" filter="url(#b1)"/>
<rect x="471.65" y="727.00" width="16.50" height="6.20" rx="2.20" fill="rgb(9,9,9)" filter="url(#b1)"/>
<rect x="490.95" y="727.45" width="16.50" height="6.20" rx="2.20" fill="rgb(13,13,13)" filter="url(#b1)"/>
<rect x="511.95" y="727.90" width="16.50" height="6.20" rx="2.20" fill="rgb(9,9,9)" filter="url(#b1)"/>
<rect x="531.75" y="728.35" width="16.50" height="6.20" rx="2.20" fill="rgb(13,13,13)" filter="url(#b1)"/>
<rect x="551.25" y="728.80" width="16.50" height="6.20" rx="2.20" fill="rgb(13,13,13)" filter="url(#b1)"/>
<rect x="570.95" y="729.25" width="16.50" height="6.20" rx="2.20" fill="rgb(27,27,27)" filter="url(#b1)"/>
<rect x="590.75" y="729.70" width="16.50" height="6.20" rx="2.20" fill="rgb(13,13,13)" filter="url(#b1)"/>
<rect x="610.95" y="730.15" width="16.50" height="6.20" rx="2.20" fill="rgb(19,19,19)" filter="url(#b1)"/>
<text x="634.80" y="733.50" font-size="12.8" textLength="35.50" lengthAdjust="spacingAndGlyphs">-TBK1</text>
<rect x="388.50" y="744.10" width="243.30" height="19.80" fill="#cecece" stroke="#1a1a1a" stroke-width="1.2"/>
<rect x="414.40" y="752.00" width="15.00" height="3.80" rx="1.52" fill="rgb(133,133,133)" filter="url(#b1)"/>
<rect x="434.10" y="752.00" width="15.00" height="3.80" rx="1.52" fill="rgb(119,119,119)" filter="url(#b1)"/>
<rect x="473.90" y="752.00" width="15.00" height="3.80" rx="1.52" fill="rgb(187,187,187)" filter="url(#b1)"/>
<rect x="493.20" y="752.00" width="15.00" height="3.80" rx="1.52" fill="rgb(143,143,143)" filter="url(#b1)"/>
<rect x="514.20" y="752.00" width="15.00" height="3.80" rx="1.52" fill="rgb(191,191,191)" filter="url(#b1)"/>
<rect x="534.00" y="752.00" width="15.00" height="3.80" rx="1.52" fill="rgb(127,127,127)" filter="url(#b1)"/>
<rect x="553.50" y="752.00" width="15.00" height="3.80" rx="1.52" fill="rgb(143,143,143)" filter="url(#b1)"/>
<rect x="593.00" y="752.00" width="15.00" height="3.80" rx="1.52" fill="rgb(143,143,143)" filter="url(#b1)"/>
<rect x="613.20" y="752.00" width="15.00" height="3.80" rx="1.52" fill="rgb(127,127,127)" filter="url(#b1)"/>
<text x="634.80" y="756.50" font-size="12.8" textLength="62.00" lengthAdjust="spacingAndGlyphs">-pMITA<tspan font-size="9" dy="-5">S366</tspan></text>
<rect x="388.50" y="768.20" width="243.30" height="19.80" fill="#cecece" stroke="#1a1a1a" stroke-width="1.2"/>
<rect x="395.15" y="776.60" width="16.50" height="6.00" rx="2.20" fill="rgb(13,13,13)" filter="url(#b1)"/>
<rect x="414.65" y="776.27" width="16.50" height="6.00" rx="2.20" fill="rgb(13,13,13)" filter="url(#b1)"/>
<rect x="434.35" y="775.94" width="16.50" height="6.00" rx="2.20" fill="rgb(13,13,13)" filter="url(#b1)"/>
<rect x="454.15" y="775.61" width="16.50" height="6.00" rx="2.20" fill="rgb(13,13,13)" filter="url(#b1)"/>
<rect x="474.15" y="775.28" width="16.50" height="6.00" rx="2.20" fill="rgb(13,13,13)" filter="url(#b1)"/>
<rect x="493.45" y="774.95" width="16.50" height="6.00" rx="2.20" fill="rgb(13,13,13)" filter="url(#b1)"/>
<rect x="514.45" y="774.62" width="16.50" height="6.00" rx="2.20" fill="rgb(13,13,13)" filter="url(#b1)"/>
<rect x="534.25" y="774.29" width="16.50" height="6.00" rx="2.20" fill="rgb(13,13,13)" filter="url(#b1)"/>
<rect x="553.75" y="773.96" width="16.50" height="6.00" rx="2.20" fill="rgb(13,13,13)" filter="url(#b1)"/>
<rect x="573.45" y="773.63" width="16.50" height="6.00" rx="2.20" fill="rgb(13,13,13)" filter="url(#b1)"/>
<rect x="593.25" y="773.30" width="16.50" height="6.00" rx="2.20" fill="rgb(13,13,13)" filter="url(#b1)"/>
<rect x="613.45" y="772.97" width="16.50" height="6.00" rx="2.20" fill="rgb(39,39,39)" filter="url(#b1)"/>
<text x="634.80" y="779.30" font-size="12.8" textLength="35.50" lengthAdjust="spacingAndGlyphs">-MITA</text>
<rect x="388.50" y="791.76" width="243.30" height="19.80" fill="#cecece" stroke="#1a1a1a" stroke-width="1.2"/>
<rect x="424.25" y="796.96" width="15.50" height="3.4" rx="1.5" fill="rgb(42,42,42)" filter="url(#b1)"/>
<rect x="424.25" y="801.36" width="15.50" height="3.4" rx="1.5" fill="rgb(33,33,33)" filter="url(#b1)"/>
<rect x="443.85" y="796.96" width="15.50" height="3.4" rx="1.5" fill="rgb(28,28,28)" filter="url(#b1)"/>
<rect x="443.85" y="801.36" width="15.50" height="3.4" rx="1.5" fill="rgb(19,19,19)" filter="url(#b1)"/>
<rect x="461.15" y="801.36" width="15.50" height="3.4" rx="1.5" fill="rgb(161,161,161)" filter="url(#b1)"/>
<rect x="481.05" y="796.96" width="15.50" height="3.4" rx="1.5" fill="rgb(85,85,85)" filter="url(#b1)"/>
<rect x="481.05" y="801.36" width="15.50" height="3.4" rx="1.5" fill="rgb(79,79,79)" filter="url(#b1)"/>
<rect x="499.85" y="796.96" width="15.50" height="3.4" rx="1.5" fill="rgb(36,36,36)" filter="url(#b1)"/>
<rect x="499.85" y="801.36" width="15.50" height="3.4" rx="1.5" fill="rgb(27,27,27)" filter="url(#b1)"/>
<rect x="518.05" y="801.36" width="15.50" height="3.4" rx="1.5" fill="rgb(143,143,143)" filter="url(#b1)"/>
<rect x="537.45" y="796.96" width="15.50" height="3.4" rx="1.5" fill="rgb(47,47,47)" filter="url(#b1)"/>
<rect x="537.45" y="801.36" width="15.50" height="3.4" rx="1.5" fill="rgb(39,39,39)" filter="url(#b1)"/>
<rect x="555.75" y="796.96" width="15.50" height="3.4" rx="1.5" fill="rgb(47,47,47)" filter="url(#b1)"/>
<rect x="555.75" y="801.36" width="15.50" height="3.4" rx="1.5" fill="rgb(39,39,39)" filter="url(#b1)"/>
<rect x="574.75" y="801.36" width="15.50" height="3.4" rx="1.5" fill="rgb(143,143,143)" filter="url(#b1)"/>
<rect x="593.55" y="796.96" width="15.50" height="3.4" rx="1.5" fill="rgb(36,36,36)" filter="url(#b1)"/>
<rect x="593.55" y="801.36" width="15.50" height="3.4" rx="1.5" fill="rgb(27,27,27)" filter="url(#b1)"/>
<rect x="611.35" y="796.96" width="15.50" height="3.4" rx="1.5" fill="rgb(47,47,47)" filter="url(#b1)"/>
<rect x="611.35" y="801.36" width="15.50" height="3.4" rx="1.5" fill="rgb(39,39,39)" filter="url(#b1)"/>
<text x="634.80" y="805.00" font-size="12.8" textLength="59.50" lengthAdjust="spacingAndGlyphs">-pIRF3<tspan font-size="9" dy="-5">S386</tspan></text>
<rect x="388.50" y="815.65" width="243.30" height="19.80" fill="#cecece" stroke="#1a1a1a" stroke-width="1.2"/>
<rect x="394.65" y="823.95" width="16.50" height="6.00" rx="2.20" fill="rgb(79,79,79)" filter="url(#b1)"/>
<rect x="414.15" y="823.95" width="16.50" height="6.00" rx="2.20" fill="rgb(79,79,79)" filter="url(#b1)"/>
<rect x="433.85" y="823.95" width="16.50" height="6.00" rx="2.20" fill="rgb(87,87,87)" filter="url(#b1)"/>
<rect x="453.65" y="823.95" width="16.50" height="6.00" rx="2.20" fill="rgb(67,67,67)" filter="url(#b1)"/>
<rect x="473.65" y="823.95" width="16.50" height="6.00" rx="2.20" fill="rgb(87,87,87)" filter="url(#b1)"/>
<rect x="492.95" y="823.95" width="16.50" height="6.00" rx="2.20" fill="rgb(87,87,87)" filter="url(#b1)"/>
<rect x="513.95" y="823.95" width="16.50" height="6.00" rx="2.20" fill="rgb(93,93,93)" filter="url(#b1)"/>
<rect x="533.75" y="823.95" width="16.50" height="6.00" rx="2.20" fill="rgb(87,87,87)" filter="url(#b1)"/>
<rect x="553.25" y="823.95" width="16.50" height="6.00" rx="2.20" fill="rgb(107,107,107)" filter="url(#b1)"/>
<rect x="572.95" y="823.95" width="16.50" height="6.00" rx="2.20" fill="rgb(93,93,93)" filter="url(#b1)"/>
<rect x="592.75" y="823.95" width="16.50" height="6.00" rx="2.20" fill="rgb(79,79,79)" filter="url(#b1)"/>
<rect x="612.95" y="823.95" width="16.50" height="6.00" rx="2.20" fill="rgb(107,107,107)" filter="url(#b1)"/>
<text x="634.80" y="826.50" font-size="12.8" textLength="34.50" lengthAdjust="spacingAndGlyphs">-IRF3</text>
<rect x="388.50" y="839.54" width="243.30" height="19.80" fill="#cecece" stroke="#1a1a1a" stroke-width="1.2"/>
<rect x="416.60" y="845.09" width="19.00" height="8.50" rx="2.20" fill="rgb(3,3,3)" filter="url(#b1)"/>
<rect x="436.00" y="845.09" width="19.00" height="8.50" rx="2.20" fill="rgb(3,3,3)" filter="url(#b1)"/>
<rect x="474.50" y="845.09" width="19.00" height="8.50" rx="2.20" fill="rgb(83,83,83)" filter="url(#b1)"/>
<rect x="493.60" y="845.09" width="19.00" height="8.50" rx="2.20" fill="rgb(7,7,7)" filter="url(#b1)"/>
<rect x="531.20" y="845.09" width="19.00" height="8.50" rx="2.20" fill="rgb(23,23,23)" filter="url(#b1)"/>
<rect x="551.10" y="845.09" width="19.00" height="8.50" rx="2.20" fill="rgb(13,13,13)" filter="url(#b1)"/>
<rect x="589.80" y="845.09" width="19.00" height="8.50" rx="2.20" fill="rgb(33,33,33)" filter="url(#b1)"/>
<rect x="608.60" y="845.09" width="19.00" height="8.50" rx="2.20" fill="rgb(3,3,3)" filter="url(#b1)"/>
<text x="634.80" y="850.20" font-size="12.8" textLength="70.00" lengthAdjust="spacingAndGlyphs">-pSTAT1<tspan font-size="9" dy="-5">Y701</tspan></text>
<rect x="388.50" y="863.43" width="243.30" height="19.80" fill="#cecece" stroke="#1a1a1a" stroke-width="1.2"/>
<rect x="392.90" y="869.33" width="18.00" height="5.80" rx="2.20" fill="rgb(13,13,13)" filter="url(#b1)"/>
<rect x="412.40" y="869.33" width="18.00" height="5.80" rx="2.20" fill="rgb(13,13,13)" filter="url(#b1)"/>
<rect x="432.10" y="869.33" width="18.00" height="5.80" rx="2.20" fill="rgb(13,13,13)" filter="url(#b1)"/>
<rect x="451.90" y="869.33" width="18.00" height="5.80" rx="2.20" fill="rgb(13,13,13)" filter="url(#b1)"/>
<rect x="471.90" y="869.33" width="18.00" height="5.80" rx="2.20" fill="rgb(13,13,13)" filter="url(#b1)"/>
<rect x="491.20" y="869.33" width="18.00" height="5.80" rx="2.20" fill="rgb(13,13,13)" filter="url(#b1)"/>
<rect x="512.20" y="869.33" width="18.00" height="5.80" rx="2.20" fill="rgb(13,13,13)" filter="url(#b1)"/>
<rect x="532.00" y="869.33" width="18.00" height="5.80" rx="2.20" fill="rgb(13,13,13)" filter="url(#b1)"/>
<rect x="551.50" y="869.33" width="18.00" height="5.80" rx="2.20" fill="rgb(13,13,13)" filter="url(#b1)"/>
<rect x="571.20" y="869.33" width="18.00" height="5.80" rx="2.20" fill="rgb(13,13,13)" filter="url(#b1)"/>
<rect x="591.00" y="869.33" width="18.00" height="5.80" rx="2.20" fill="rgb(13,13,13)" filter="url(#b1)"/>
<rect x="611.20" y="869.33" width="18.00" height="5.80" rx="2.20" fill="rgb(13,13,13)" filter="url(#b1)"/>
<text x="634.80" y="877.20" font-size="12.8" textLength="42.00" lengthAdjust="spacingAndGlyphs">-STAT1</text>
<rect x="388.50" y="887.32" width="243.30" height="19.80" fill="#cecece" stroke="#1a1a1a" stroke-width="1.2"/>
<rect x="391.65" y="894.82" width="19.50" height="7.00" rx="2.20" fill="rgb(3,3,3)" filter="url(#b1)"/>
<rect x="411.15" y="894.49" width="19.50" height="7.00" rx="2.20" fill="rgb(3,3,3)" filter="url(#b1)"/>
<rect x="430.85" y="894.16" width="19.50" height="7.00" rx="2.20" fill="rgb(3,3,3)" filter="url(#b1)"/>
<rect x="450.65" y="893.83" width="19.50" height="7.00" rx="2.20" fill="rgb(3,3,3)" filter="url(#b1)"/>
<rect x="470.65" y="893.50" width="19.50" height="7.00" rx="2.20" fill="rgb(3,3,3)" filter="url(#b1)"/>
<rect x="489.95" y="893.17" width="19.50" height="7.00" rx="2.20" fill="rgb(3,3,3)" filter="url(#b1)"/>
<rect x="510.95" y="892.84" width="19.50" height="7.00" rx="2.20" fill="rgb(3,3,3)" filter="url(#b1)"/>
<rect x="530.75" y="892.51" width="19.50" height="7.00" rx="2.20" fill="rgb(3,3,3)" filter="url(#b1)"/>
<rect x="550.25" y="892.18" width="19.50" height="7.00" rx="2.20" fill="rgb(3,3,3)" filter="url(#b1)"/>
<rect x="569.95" y="891.85" width="19.50" height="7.00" rx="2.20" fill="rgb(3,3,3)" filter="url(#b1)"/>
<rect x="589.75" y="891.52" width="19.50" height="7.00" rx="2.20" fill="rgb(3,3,3)" filter="url(#b1)"/>
<rect x="609.95" y="891.19" width="19.50" height="7.00" rx="2.20" fill="rgb(33,33,33)" filter="url(#b1)"/>
<text x="634.80" y="899.90" font-size="12.8" textLength="44.00" lengthAdjust="spacingAndGlyphs">-<tspan font-family="Liberation Serif">β</tspan>-Actin</text>
<text x="387.00" y="711.90" font-size="12.8" text-anchor="end" >85-</text>
<text x="387.00" y="729.80" font-size="12.8" text-anchor="end" >85-</text>
<text x="387.00" y="747.80" font-size="12.8" text-anchor="end" >49-</text>
<text x="387.00" y="772.20" font-size="12.8" text-anchor="end" >49-</text>
<text x="387.00" y="814.50" font-size="12.8" text-anchor="end" >49-</text>
<text x="387.00" y="835.60" font-size="12.8" text-anchor="end" >49-</text>
<text x="387.00" y="856.30" font-size="12.8" text-anchor="end" >85-</text>
<text x="387.00" y="876.70" font-size="12.8" text-anchor="end" >85-</text>
<text x="387.00" y="897.10" font-size="12.8" text-anchor="end" >49-</text>
<text x="362.6" y="917.8" font-size="12.8" textLength="25.0" lengthAdjust="spacingAndGlyphs">KDa</text>
<line x1="48.20" y1="658.70" x2="162.00" y2="658.70" stroke="#222" stroke-width="1.3"/>
<line x1="167.50" y1="658.70" x2="281.90" y2="658.70" stroke="#222" stroke-width="1.3"/>
<text x="89.40" y="653.60" font-size="12.8" text-anchor="start" textLength="26.40" lengthAdjust="spacingAndGlyphs">g<tspan font-style="italic">NC</tspan></text>
<text x="185.20" y="653.60" font-size="12.8" text-anchor="start" textLength="84.90" lengthAdjust="spacingAndGlyphs">g<tspan font-style="italic">ADRB1/2</tspan>(#1)</text>
<text x="14.50" y="675.10" font-size="13" text-anchor="start" textLength="28.70" lengthAdjust="spacingAndGlyphs">SeV:</text>
<text x="12.80" y="690.80" font-size="13" text-anchor="start" textLength="28.50" lengthAdjust="spacingAndGlyphs">ISO :</text>
<text x="56.20" y="675.10" font-size="12.8" text-anchor="middle" >0</text>
<text x="56.20" y="691.50" font-size="12.5" text-anchor="middle" >-</text>
<text x="76.00" y="675.10" font-size="12.8" text-anchor="middle" >3</text>
<text x="76.00" y="691.50" font-size="12.5" text-anchor="middle" >-</text>
<text x="95.70" y="675.10" font-size="12.8" text-anchor="middle" >6</text>
<text x="95.70" y="691.50" font-size="12.5" text-anchor="middle" >-</text>
<text x="115.70" y="675.10" font-size="12.8" text-anchor="middle" >0</text>
<text x="115.70" y="691.50" font-size="12.5" text-anchor="middle" >+</text>
<text x="135.00" y="675.10" font-size="12.8" text-anchor="middle" >3</text>
<text x="135.00" y="691.50" font-size="12.5" text-anchor="middle" >+</text>
<text x="154.30" y="675.10" font-size="12.8" text-anchor="middle" >6</text>
<text x="154.30" y="691.50" font-size="12.5" text-anchor="middle" >+</text>
<text x="176.00" y="675.10" font-size="12.8" text-anchor="middle" >0</text>
<text x="176.00" y="691.50" font-size="12.5" text-anchor="middle" >-</text>
<text x="195.00" y="675.10" font-size="12.8" text-anchor="middle" >3</text>
<text x="195.00" y="691.50" font-size="12.5" text-anchor="middle" >-</text>
<text x="214.50" y="675.10" font-size="12.8" text-anchor="middle" >6</text>
<text x="214.50" y="691.50" font-size="12.5" text-anchor="middle" >-</text>
<text x="234.20" y="675.10" font-size="12.8" text-anchor="middle" >0</text>
<text x="234.20" y="691.50" font-size="12.5" text-anchor="middle" >+</text>
<text x="253.60" y="675.10" font-size="12.8" text-anchor="middle" >3</text>
<text x="253.60" y="691.50" font-size="12.5" text-anchor="middle" >+</text>
<text x="273.00" y="675.10" font-size="12.8" text-anchor="middle" >6</text>
<text x="273.00" y="691.50" font-size="12.5" text-anchor="middle" >+</text>
<text x="281.40" y="675.10" font-size="12.8" text-anchor="start" textLength="16.80" lengthAdjust="spacingAndGlyphs">(h)</text>
<line x1="390.20" y1="658.70" x2="504.40" y2="658.70" stroke="#222" stroke-width="1.3"/>
<line x1="515.70" y1="658.70" x2="629.60" y2="658.70" stroke="#222" stroke-width="1.3"/>
<text x="434.20" y="652.50" font-size="12.8" text-anchor="start" textLength="26.20" lengthAdjust="spacingAndGlyphs">g<tspan font-style="italic">NC</tspan></text>
<text x="530.10" y="652.50" font-size="12.8" text-anchor="start" textLength="84.40" lengthAdjust="spacingAndGlyphs">g<tspan font-style="italic">ADRB1/2</tspan>(#1)</text>
<text x="348.60" y="673.80" font-size="13" text-anchor="start" textLength="40.30" lengthAdjust="spacingAndGlyphs">HSV-1:</text>
<text x="359.90" y="689.70" font-size="13" text-anchor="start" textLength="28.60" lengthAdjust="spacingAndGlyphs">ISO :</text>
<text x="400.90" y="673.80" font-size="12.8" text-anchor="middle" >0</text>
<text x="400.90" y="690.40" font-size="12.5" text-anchor="middle" >-</text>
<text x="420.40" y="673.80" font-size="12.8" text-anchor="middle" >3</text>
<text x="420.40" y="690.40" font-size="12.5" text-anchor="middle" >-</text>
<text x="440.10" y="673.80" font-size="12.8" text-anchor="middle" >6</text>
<text x="440.10" y="690.40" font-size="12.5" text-anchor="middle" >-</text>
<text x="459.90" y="673.80" font-size="12.8" text-anchor="middle" >0</text>
<text x="459.90" y="690.40" font-size="12.5" text-anchor="middle" >+</text>
<text x="479.90" y="673.80" font-size="12.8" text-anchor="middle" >3</text>
<text x="479.90" y="690.40" font-size="12.5" text-anchor="middle" >+</text>
<text x="499.20" y="673.80" font-size="12.8" text-anchor="middle" >6</text>
<text x="499.20" y="690.40" font-size="12.5" text-anchor="middle" >+</text>
<text x="520.70" y="673.80" font-size="12.8" text-anchor="middle" >0</text>
<text x="520.70" y="690.40" font-size="12.5" text-anchor="middle" >-</text>
<text x="540.20" y="673.80" font-size="12.8" text-anchor="middle" >3</text>
<text x="540.20" y="690.40" font-size="12.5" text-anchor="middle" >-</text>
<text x="559.50" y="673.80" font-size="12.8" text-anchor="middle" >6</text>
<text x="559.50" y="690.40" font-size="12.5" text-anchor="middle" >-</text>
<text x="579.20" y="673.80" font-size="12.8" text-anchor="middle" >0</text>
<text x="579.20" y="690.40" font-size="12.5" text-anchor="middle" >+</text>
<text x="598.50" y="673.80" font-size="12.8" text-anchor="middle" >3</text>
<text x="598.50" y="690.40" font-size="12.5" text-anchor="middle" >+</text>
<text x="617.80" y="673.80" font-size="12.8" text-anchor="middle" >6</text>
<text x="617.80" y="690.40" font-size="12.5" text-anchor="middle" >+</text>
<text x="628.70" y="673.80" font-size="12.8" text-anchor="start" textLength="16.00" lengthAdjust="spacingAndGlyphs">(h)</text>
<line x1="70.60" y1="225.80" x2="70.60" y2="307.00" stroke="#222" stroke-width="1.3"/>
<line x1="70.00" y1="306.40" x2="135.00" y2="306.40" stroke="#222" stroke-width="1.3"/>
<line x1="70.60" y1="306.40" x2="74.20" y2="306.40" stroke="#222" stroke-width="1.3"/>
<text x="67.50" y="310.90" font-size="12.5" text-anchor="end" >0</text>
<line x1="70.60" y1="279.73" x2="74.20" y2="279.73" stroke="#222" stroke-width="1.3"/>
<text x="67.50" y="284.23" font-size="12.5" text-anchor="end" >50</text>
<line x1="70.60" y1="253.06" x2="74.20" y2="253.06" stroke="#222" stroke-width="1.3"/>
<text x="67.50" y="257.56" font-size="12.5" text-anchor="end" >100</text>
<line x1="70.60" y1="226.39" x2="74.20" y2="226.39" stroke="#222" stroke-width="1.3"/>
<text x="67.50" y="230.89" font-size="12.5" text-anchor="end" >150</text>
<line x1="86.00" y1="306.40" x2="86.00" y2="312.00" stroke="#222" stroke-width="1.3"/>
<line x1="117.90" y1="306.40" x2="117.90" y2="312.00" stroke="#222" stroke-width="1.3"/>
<rect x="74.10" y="305.76" width="8.5" height="0.64" fill="#fff" stroke="#222" stroke-width="0.9"/>
<circle cx="75.90" cy="305.60" r="0.8" fill="#222"/>
<circle cx="78.40" cy="305.60" r="0.8" fill="#222"/>
<circle cx="80.90" cy="305.60" r="0.8" fill="#222"/>
<rect x="82.60" y="258.39" width="7.4" height="48.01" fill="#808080" stroke="#222" stroke-width="0.9"/>
<rect x="90.00" y="256.26" width="8.4" height="50.14" fill="#050505"/>
<line x1="86.30" y1="258.39" x2="86.30" y2="251.99" stroke="#222" stroke-width="1.1"/>
<line x1="84.30" y1="251.99" x2="88.30" y2="251.99" stroke="#222" stroke-width="1.1"/>
<line x1="94.20" y1="256.26" x2="94.20" y2="249.33" stroke="#222" stroke-width="1.1"/>
<line x1="92.20" y1="249.33" x2="96.20" y2="249.33" stroke="#222" stroke-width="1.1"/>
<rect x="106.30" y="305.76" width="8.5" height="0.64" fill="#fff" stroke="#222" stroke-width="0.9"/>
<circle cx="108.10" cy="305.60" r="0.8" fill="#222"/>
<circle cx="110.60" cy="305.60" r="0.8" fill="#222"/>
<circle cx="113.10" cy="305.60" r="0.8" fill="#222"/>
<rect x="114.50" y="251.46" width="7.4" height="54.94" fill="#808080" stroke="#222" stroke-width="0.9"/>
<rect x="121.90" y="253.59" width="8.4" height="52.81" fill="#050505"/>
<line x1="118.20" y1="251.46" x2="118.20" y2="248.79" stroke="#222" stroke-width="1.1"/>
<line x1="116.20" y1="248.79" x2="120.20" y2="248.79" stroke="#222" stroke-width="1.1"/>
<line x1="126.10" y1="253.59" x2="126.10" y2="250.93" stroke="#222" stroke-width="1.1"/>
<line x1="124.10" y1="250.93" x2="128.10" y2="250.93" stroke="#222" stroke-width="1.1"/>
<circle cx="86.4" cy="263.8" r="1.1" fill="#111"/>
<circle cx="118.0" cy="254.5" r="1.1" fill="#111"/>
<circle cx="127.5" cy="250.8" r="1.1" fill="#111"/>
<path d="M94.4,247.3 L96.2,250.3 L92.6,250.3 Z" fill="#111"/>
<line x1="82.10" y1="237.80" x2="98.60" y2="237.80" stroke="#555" stroke-width="1.6"/>
<text x="90.35" y="235.50" font-size="12.5" text-anchor="middle" >ns</text>
<line x1="114.50" y1="237.80" x2="130.60" y2="237.80" stroke="#555" stroke-width="1.6"/>
<text x="122.55" y="235.50" font-size="12.5" text-anchor="middle" >ns</text>
<text x="102.80" y="219.60" font-size="12.5" text-anchor="middle" font-style="italic" >ISG56</text>
<text x="0" y="0" font-size="12.7" text-anchor="middle" transform="translate(43.8,266.8) rotate(-90)">mRNA Level</text>
<text x="0" y="0" font-size="12.8" text-anchor="end" transform="translate(89.8,324.2) rotate(-45)">gNC</text>
<text x="0" y="0" font-size="12.8" text-anchor="end" textLength="76" lengthAdjust="spacingAndGlyphs" transform="translate(123.3,324.5) rotate(-45)">gADRB1/2(#1)</text>
<rect x="69.6" y="395.00" width="8.6" height="8.2" fill="#fff" stroke="#111" stroke-width="1"/>
<text x="83.20" y="402.80" font-size="13" text-anchor="start" >Mock</text>
<rect x="69.6" y="411.50" width="8.6" height="8.2" fill="#808080" stroke="#111" stroke-width="1"/>
<text x="83.20" y="419.30" font-size="13" text-anchor="start" >IFN-<tspan font-family="Liberation Serif">β</tspan></text>
<rect x="69.6" y="428.20" width="8.6" height="8.2" fill="#050505" stroke="#111" stroke-width="1"/>
<text x="83.20" y="436.00" font-size="13" text-anchor="start" >IFN-<tspan font-family="Liberation Serif">β</tspan>+ISO</text>
</svg>
</body></html>
